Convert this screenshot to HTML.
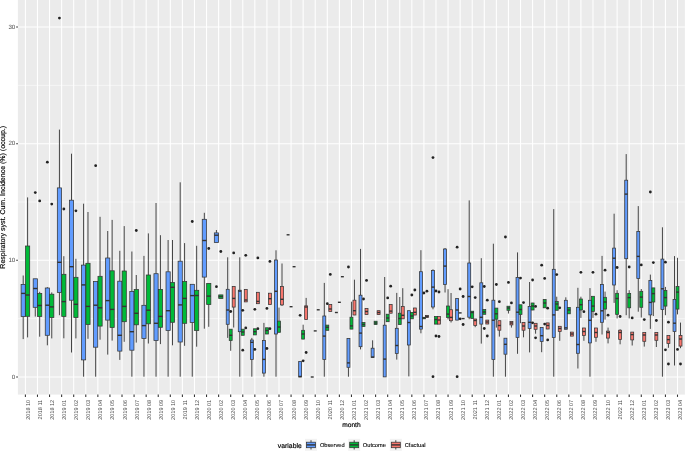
<!DOCTYPE html><html><head><meta charset="utf-8"><style>html,body{margin:0;padding:0;background:#fff;}body{width:685px;height:454px;overflow:hidden;}svg{display:block;text-rendering:geometricPrecision;font-family:"Liberation Sans",sans-serif;}</style></head><body>
<svg width="685" height="454" viewBox="0 0 685 454">
<rect x="0" y="0" width="685" height="454" fill="#fff"/>
<rect x="17.9" y="0.0" width="667.00" height="394.60" fill="#EBEBEB"/>
<line x1="17.9" x2="684.9" y1="318.67" y2="318.67" stroke="#fff" stroke-width="0.55"/>
<line x1="17.9" x2="684.9" y1="202.00" y2="202.00" stroke="#fff" stroke-width="0.55"/>
<line x1="17.9" x2="684.9" y1="85.33" y2="85.33" stroke="#fff" stroke-width="0.55"/>
<line x1="17.9" x2="684.9" y1="377.00" y2="377.00" stroke="#fff" stroke-width="1.07"/>
<line x1="17.9" x2="684.9" y1="260.33" y2="260.33" stroke="#fff" stroke-width="1.07"/>
<line x1="17.9" x2="684.9" y1="143.67" y2="143.67" stroke="#fff" stroke-width="1.07"/>
<line x1="17.9" x2="684.9" y1="27.00" y2="27.00" stroke="#fff" stroke-width="1.07"/>
<line x1="25.40" x2="25.40" y1="0.0" y2="394.6" stroke="#fff" stroke-width="1.07"/>
<line x1="37.48" x2="37.48" y1="0.0" y2="394.6" stroke="#fff" stroke-width="1.07"/>
<line x1="49.55" x2="49.55" y1="0.0" y2="394.6" stroke="#fff" stroke-width="1.07"/>
<line x1="61.63" x2="61.63" y1="0.0" y2="394.6" stroke="#fff" stroke-width="1.07"/>
<line x1="73.70" x2="73.70" y1="0.0" y2="394.6" stroke="#fff" stroke-width="1.07"/>
<line x1="85.78" x2="85.78" y1="0.0" y2="394.6" stroke="#fff" stroke-width="1.07"/>
<line x1="97.86" x2="97.86" y1="0.0" y2="394.6" stroke="#fff" stroke-width="1.07"/>
<line x1="109.93" x2="109.93" y1="0.0" y2="394.6" stroke="#fff" stroke-width="1.07"/>
<line x1="122.01" x2="122.01" y1="0.0" y2="394.6" stroke="#fff" stroke-width="1.07"/>
<line x1="134.08" x2="134.08" y1="0.0" y2="394.6" stroke="#fff" stroke-width="1.07"/>
<line x1="146.16" x2="146.16" y1="0.0" y2="394.6" stroke="#fff" stroke-width="1.07"/>
<line x1="158.24" x2="158.24" y1="0.0" y2="394.6" stroke="#fff" stroke-width="1.07"/>
<line x1="170.31" x2="170.31" y1="0.0" y2="394.6" stroke="#fff" stroke-width="1.07"/>
<line x1="182.39" x2="182.39" y1="0.0" y2="394.6" stroke="#fff" stroke-width="1.07"/>
<line x1="194.46" x2="194.46" y1="0.0" y2="394.6" stroke="#fff" stroke-width="1.07"/>
<line x1="206.54" x2="206.54" y1="0.0" y2="394.6" stroke="#fff" stroke-width="1.07"/>
<line x1="218.62" x2="218.62" y1="0.0" y2="394.6" stroke="#fff" stroke-width="1.07"/>
<line x1="230.69" x2="230.69" y1="0.0" y2="394.6" stroke="#fff" stroke-width="1.07"/>
<line x1="242.77" x2="242.77" y1="0.0" y2="394.6" stroke="#fff" stroke-width="1.07"/>
<line x1="254.84" x2="254.84" y1="0.0" y2="394.6" stroke="#fff" stroke-width="1.07"/>
<line x1="266.92" x2="266.92" y1="0.0" y2="394.6" stroke="#fff" stroke-width="1.07"/>
<line x1="279.00" x2="279.00" y1="0.0" y2="394.6" stroke="#fff" stroke-width="1.07"/>
<line x1="291.07" x2="291.07" y1="0.0" y2="394.6" stroke="#fff" stroke-width="1.07"/>
<line x1="303.15" x2="303.15" y1="0.0" y2="394.6" stroke="#fff" stroke-width="1.07"/>
<line x1="315.22" x2="315.22" y1="0.0" y2="394.6" stroke="#fff" stroke-width="1.07"/>
<line x1="327.30" x2="327.30" y1="0.0" y2="394.6" stroke="#fff" stroke-width="1.07"/>
<line x1="339.38" x2="339.38" y1="0.0" y2="394.6" stroke="#fff" stroke-width="1.07"/>
<line x1="351.45" x2="351.45" y1="0.0" y2="394.6" stroke="#fff" stroke-width="1.07"/>
<line x1="363.53" x2="363.53" y1="0.0" y2="394.6" stroke="#fff" stroke-width="1.07"/>
<line x1="375.60" x2="375.60" y1="0.0" y2="394.6" stroke="#fff" stroke-width="1.07"/>
<line x1="387.68" x2="387.68" y1="0.0" y2="394.6" stroke="#fff" stroke-width="1.07"/>
<line x1="399.76" x2="399.76" y1="0.0" y2="394.6" stroke="#fff" stroke-width="1.07"/>
<line x1="411.83" x2="411.83" y1="0.0" y2="394.6" stroke="#fff" stroke-width="1.07"/>
<line x1="423.91" x2="423.91" y1="0.0" y2="394.6" stroke="#fff" stroke-width="1.07"/>
<line x1="435.98" x2="435.98" y1="0.0" y2="394.6" stroke="#fff" stroke-width="1.07"/>
<line x1="448.06" x2="448.06" y1="0.0" y2="394.6" stroke="#fff" stroke-width="1.07"/>
<line x1="460.14" x2="460.14" y1="0.0" y2="394.6" stroke="#fff" stroke-width="1.07"/>
<line x1="472.21" x2="472.21" y1="0.0" y2="394.6" stroke="#fff" stroke-width="1.07"/>
<line x1="484.29" x2="484.29" y1="0.0" y2="394.6" stroke="#fff" stroke-width="1.07"/>
<line x1="496.36" x2="496.36" y1="0.0" y2="394.6" stroke="#fff" stroke-width="1.07"/>
<line x1="508.44" x2="508.44" y1="0.0" y2="394.6" stroke="#fff" stroke-width="1.07"/>
<line x1="520.52" x2="520.52" y1="0.0" y2="394.6" stroke="#fff" stroke-width="1.07"/>
<line x1="532.59" x2="532.59" y1="0.0" y2="394.6" stroke="#fff" stroke-width="1.07"/>
<line x1="544.67" x2="544.67" y1="0.0" y2="394.6" stroke="#fff" stroke-width="1.07"/>
<line x1="556.74" x2="556.74" y1="0.0" y2="394.6" stroke="#fff" stroke-width="1.07"/>
<line x1="568.82" x2="568.82" y1="0.0" y2="394.6" stroke="#fff" stroke-width="1.07"/>
<line x1="580.90" x2="580.90" y1="0.0" y2="394.6" stroke="#fff" stroke-width="1.07"/>
<line x1="592.97" x2="592.97" y1="0.0" y2="394.6" stroke="#fff" stroke-width="1.07"/>
<line x1="605.05" x2="605.05" y1="0.0" y2="394.6" stroke="#fff" stroke-width="1.07"/>
<line x1="617.12" x2="617.12" y1="0.0" y2="394.6" stroke="#fff" stroke-width="1.07"/>
<line x1="629.20" x2="629.20" y1="0.0" y2="394.6" stroke="#fff" stroke-width="1.07"/>
<line x1="641.28" x2="641.28" y1="0.0" y2="394.6" stroke="#fff" stroke-width="1.07"/>
<line x1="653.35" x2="653.35" y1="0.0" y2="394.6" stroke="#fff" stroke-width="1.07"/>
<line x1="665.43" x2="665.43" y1="0.0" y2="394.6" stroke="#fff" stroke-width="1.07"/>
<line x1="677.50" x2="677.50" y1="0.0" y2="394.6" stroke="#fff" stroke-width="1.07"/>
<line x1="23.20" x2="23.20" y1="275.50" y2="284.40" stroke="#333333" stroke-width="0.9"/>
<line x1="23.20" x2="23.20" y1="316.60" y2="339.10" stroke="#333333" stroke-width="0.9"/>
<rect x="21.10" y="284.40" width="4.20" height="32.20" fill="#619CFF" stroke="#333333" stroke-width="0.75"/>
<line x1="21.10" x2="25.30" y1="293.40" y2="293.40" stroke="#333333" stroke-width="1.4"/>
<line x1="27.60" x2="27.60" y1="197.40" y2="246.00" stroke="#333333" stroke-width="0.9"/>
<line x1="27.60" x2="27.60" y1="316.30" y2="337.40" stroke="#333333" stroke-width="0.9"/>
<rect x="25.50" y="246.00" width="4.20" height="70.30" fill="#00BA38" stroke="#333333" stroke-width="0.75"/>
<line x1="25.50" x2="29.70" y1="295.00" y2="295.00" stroke="#333333" stroke-width="1.4"/>
<line x1="35.28" x2="35.28" y1="278.70" y2="278.80" stroke="#333333" stroke-width="0.9"/>
<line x1="35.28" x2="35.28" y1="307.30" y2="316.60" stroke="#333333" stroke-width="0.9"/>
<rect x="33.18" y="278.80" width="4.20" height="28.50" fill="#619CFF" stroke="#333333" stroke-width="0.75"/>
<line x1="33.18" x2="37.38" y1="288.50" y2="288.50" stroke="#333333" stroke-width="1.4"/>
<circle cx="35.28" cy="192.60" r="1.4" fill="#222"/>
<line x1="39.68" x2="39.68" y1="291.80" y2="293.50" stroke="#333333" stroke-width="0.9"/>
<line x1="39.68" x2="39.68" y1="316.40" y2="336.70" stroke="#333333" stroke-width="0.9"/>
<rect x="37.58" y="293.50" width="4.20" height="22.90" fill="#00BA38" stroke="#333333" stroke-width="0.75"/>
<line x1="37.58" x2="41.78" y1="305.50" y2="305.50" stroke="#333333" stroke-width="1.4"/>
<circle cx="39.68" cy="200.90" r="1.4" fill="#222"/>
<line x1="47.35" x2="47.35" y1="287.20" y2="288.00" stroke="#333333" stroke-width="0.9"/>
<line x1="47.35" x2="47.35" y1="335.30" y2="345.30" stroke="#333333" stroke-width="0.9"/>
<rect x="45.25" y="288.00" width="4.20" height="47.30" fill="#619CFF" stroke="#333333" stroke-width="0.75"/>
<line x1="45.25" x2="49.45" y1="305.20" y2="305.20" stroke="#333333" stroke-width="1.4"/>
<circle cx="47.35" cy="162.20" r="1.4" fill="#222"/>
<line x1="51.75" x2="51.75" y1="292.40" y2="294.20" stroke="#333333" stroke-width="0.9"/>
<line x1="51.75" x2="51.75" y1="317.50" y2="338.40" stroke="#333333" stroke-width="0.9"/>
<rect x="49.65" y="294.20" width="4.20" height="23.30" fill="#00BA38" stroke="#333333" stroke-width="0.75"/>
<line x1="49.65" x2="53.85" y1="306.90" y2="306.90" stroke="#333333" stroke-width="1.4"/>
<circle cx="51.75" cy="204.10" r="1.4" fill="#222"/>
<line x1="59.43" x2="59.43" y1="129.60" y2="187.90" stroke="#333333" stroke-width="0.9"/>
<line x1="59.43" x2="59.43" y1="292.40" y2="315.20" stroke="#333333" stroke-width="0.9"/>
<rect x="57.33" y="187.90" width="4.20" height="104.50" fill="#619CFF" stroke="#333333" stroke-width="0.75"/>
<line x1="57.33" x2="61.53" y1="262.30" y2="262.30" stroke="#333333" stroke-width="1.4"/>
<circle cx="59.43" cy="18.10" r="1.4" fill="#222"/>
<line x1="63.83" x2="63.83" y1="256.20" y2="274.30" stroke="#333333" stroke-width="0.9"/>
<line x1="63.83" x2="63.83" y1="316.40" y2="338.30" stroke="#333333" stroke-width="0.9"/>
<rect x="61.73" y="274.30" width="4.20" height="42.10" fill="#00BA38" stroke="#333333" stroke-width="0.75"/>
<line x1="61.73" x2="65.93" y1="301.60" y2="301.60" stroke="#333333" stroke-width="1.4"/>
<circle cx="63.83" cy="209.00" r="1.4" fill="#222"/>
<line x1="71.50" x2="71.50" y1="153.70" y2="200.20" stroke="#333333" stroke-width="0.9"/>
<line x1="71.50" x2="71.50" y1="300.20" y2="352.50" stroke="#333333" stroke-width="0.9"/>
<rect x="69.40" y="200.20" width="4.20" height="100.00" fill="#619CFF" stroke="#333333" stroke-width="0.75"/>
<line x1="69.40" x2="73.60" y1="266.70" y2="266.70" stroke="#333333" stroke-width="1.4"/>
<line x1="75.90" x2="75.90" y1="258.80" y2="277.30" stroke="#333333" stroke-width="0.9"/>
<line x1="75.90" x2="75.90" y1="317.50" y2="338.40" stroke="#333333" stroke-width="0.9"/>
<rect x="73.80" y="277.30" width="4.20" height="40.20" fill="#00BA38" stroke="#333333" stroke-width="0.75"/>
<line x1="73.80" x2="78.00" y1="304.30" y2="304.30" stroke="#333333" stroke-width="1.4"/>
<circle cx="75.90" cy="210.80" r="1.4" fill="#222"/>
<line x1="83.58" x2="83.58" y1="203.70" y2="265.10" stroke="#333333" stroke-width="0.9"/>
<line x1="83.58" x2="83.58" y1="359.90" y2="376.70" stroke="#333333" stroke-width="0.9"/>
<rect x="81.48" y="265.10" width="4.20" height="94.80" fill="#619CFF" stroke="#333333" stroke-width="0.75"/>
<line x1="81.48" x2="85.68" y1="284.90" y2="284.90" stroke="#333333" stroke-width="1.4"/>
<line x1="87.98" x2="87.98" y1="212.00" y2="263.30" stroke="#333333" stroke-width="0.9"/>
<line x1="87.98" x2="87.98" y1="324.50" y2="338.80" stroke="#333333" stroke-width="0.9"/>
<rect x="85.88" y="263.30" width="4.20" height="61.20" fill="#00BA38" stroke="#333333" stroke-width="0.75"/>
<line x1="85.88" x2="90.08" y1="306.40" y2="306.40" stroke="#333333" stroke-width="1.4"/>
<line x1="95.66" x2="95.66" y1="281.40" y2="281.50" stroke="#333333" stroke-width="0.9"/>
<line x1="95.66" x2="95.66" y1="347.20" y2="376.70" stroke="#333333" stroke-width="0.9"/>
<rect x="93.56" y="281.50" width="4.20" height="65.70" fill="#619CFF" stroke="#333333" stroke-width="0.75"/>
<line x1="93.56" x2="97.76" y1="305.20" y2="305.20" stroke="#333333" stroke-width="1.4"/>
<circle cx="95.66" cy="165.70" r="1.4" fill="#222"/>
<line x1="100.06" x2="100.06" y1="216.80" y2="276.30" stroke="#333333" stroke-width="0.9"/>
<line x1="100.06" x2="100.06" y1="326.10" y2="339.70" stroke="#333333" stroke-width="0.9"/>
<rect x="97.96" y="276.30" width="4.20" height="49.80" fill="#00BA38" stroke="#333333" stroke-width="0.75"/>
<line x1="97.96" x2="102.16" y1="307.80" y2="307.80" stroke="#333333" stroke-width="1.4"/>
<line x1="107.73" x2="107.73" y1="231.00" y2="258.00" stroke="#333333" stroke-width="0.9"/>
<line x1="107.73" x2="107.73" y1="320.10" y2="354.60" stroke="#333333" stroke-width="0.9"/>
<rect x="105.63" y="258.00" width="4.20" height="62.10" fill="#619CFF" stroke="#333333" stroke-width="0.75"/>
<line x1="105.63" x2="109.83" y1="300.60" y2="300.60" stroke="#333333" stroke-width="1.4"/>
<line x1="112.13" x2="112.13" y1="219.90" y2="270.80" stroke="#333333" stroke-width="0.9"/>
<line x1="112.13" x2="112.13" y1="327.50" y2="340.60" stroke="#333333" stroke-width="0.9"/>
<rect x="110.03" y="270.80" width="4.20" height="56.70" fill="#00BA38" stroke="#333333" stroke-width="0.75"/>
<line x1="110.03" x2="114.23" y1="309.40" y2="309.40" stroke="#333333" stroke-width="1.4"/>
<line x1="119.81" x2="119.81" y1="250.80" y2="281.20" stroke="#333333" stroke-width="0.9"/>
<line x1="119.81" x2="119.81" y1="351.10" y2="359.90" stroke="#333333" stroke-width="0.9"/>
<rect x="117.71" y="281.20" width="4.20" height="69.90" fill="#619CFF" stroke="#333333" stroke-width="0.75"/>
<line x1="117.71" x2="121.91" y1="335.30" y2="335.30" stroke="#333333" stroke-width="1.4"/>
<line x1="124.21" x2="124.21" y1="226.10" y2="271.00" stroke="#333333" stroke-width="0.9"/>
<line x1="124.21" x2="124.21" y1="321.70" y2="341.80" stroke="#333333" stroke-width="0.9"/>
<rect x="122.11" y="271.00" width="4.20" height="50.70" fill="#00BA38" stroke="#333333" stroke-width="0.75"/>
<line x1="122.11" x2="126.31" y1="306.40" y2="306.40" stroke="#333333" stroke-width="1.4"/>
<line x1="131.88" x2="131.88" y1="251.50" y2="291.40" stroke="#333333" stroke-width="0.9"/>
<line x1="131.88" x2="131.88" y1="350.20" y2="376.70" stroke="#333333" stroke-width="0.9"/>
<rect x="129.78" y="291.40" width="4.20" height="58.80" fill="#619CFF" stroke="#333333" stroke-width="0.75"/>
<line x1="129.78" x2="133.98" y1="331.70" y2="331.70" stroke="#333333" stroke-width="1.4"/>
<line x1="136.28" x2="136.28" y1="275.00" y2="289.50" stroke="#333333" stroke-width="0.9"/>
<line x1="136.28" x2="136.28" y1="324.80" y2="342.60" stroke="#333333" stroke-width="0.9"/>
<rect x="134.18" y="289.50" width="4.20" height="35.30" fill="#00BA38" stroke="#333333" stroke-width="0.75"/>
<line x1="134.18" x2="138.38" y1="313.30" y2="313.30" stroke="#333333" stroke-width="1.4"/>
<circle cx="136.28" cy="230.50" r="1.4" fill="#222"/>
<line x1="143.96" x2="143.96" y1="255.90" y2="305.30" stroke="#333333" stroke-width="0.9"/>
<line x1="143.96" x2="143.96" y1="338.40" y2="376.70" stroke="#333333" stroke-width="0.9"/>
<rect x="141.86" y="305.30" width="4.20" height="33.10" fill="#619CFF" stroke="#333333" stroke-width="0.75"/>
<line x1="141.86" x2="146.06" y1="325.60" y2="325.60" stroke="#333333" stroke-width="1.4"/>
<line x1="148.36" x2="148.36" y1="233.40" y2="275.00" stroke="#333333" stroke-width="0.9"/>
<line x1="148.36" x2="148.36" y1="323.80" y2="343.50" stroke="#333333" stroke-width="0.9"/>
<rect x="146.26" y="275.00" width="4.20" height="48.80" fill="#00BA38" stroke="#333333" stroke-width="0.75"/>
<line x1="146.26" x2="150.46" y1="310.20" y2="310.20" stroke="#333333" stroke-width="1.4"/>
<line x1="156.04" x2="156.04" y1="203.00" y2="273.70" stroke="#333333" stroke-width="0.9"/>
<line x1="156.04" x2="156.04" y1="340.60" y2="376.70" stroke="#333333" stroke-width="0.9"/>
<rect x="153.94" y="273.70" width="4.20" height="66.90" fill="#619CFF" stroke="#333333" stroke-width="0.75"/>
<line x1="153.94" x2="158.14" y1="323.30" y2="323.30" stroke="#333333" stroke-width="1.4"/>
<line x1="160.44" x2="160.44" y1="235.20" y2="289.40" stroke="#333333" stroke-width="0.9"/>
<line x1="160.44" x2="160.44" y1="327.30" y2="344.10" stroke="#333333" stroke-width="0.9"/>
<rect x="158.34" y="289.40" width="4.20" height="37.90" fill="#00BA38" stroke="#333333" stroke-width="0.75"/>
<line x1="158.34" x2="162.54" y1="316.40" y2="316.40" stroke="#333333" stroke-width="1.4"/>
<line x1="168.11" x2="168.11" y1="240.00" y2="271.80" stroke="#333333" stroke-width="0.9"/>
<line x1="168.11" x2="168.11" y1="330.50" y2="376.70" stroke="#333333" stroke-width="0.9"/>
<rect x="166.01" y="271.80" width="4.20" height="58.70" fill="#619CFF" stroke="#333333" stroke-width="0.75"/>
<line x1="166.01" x2="170.21" y1="310.70" y2="310.70" stroke="#333333" stroke-width="1.4"/>
<line x1="172.51" x2="172.51" y1="240.00" y2="282.50" stroke="#333333" stroke-width="0.9"/>
<line x1="172.51" x2="172.51" y1="322.30" y2="345.30" stroke="#333333" stroke-width="0.9"/>
<rect x="170.41" y="282.50" width="4.20" height="39.80" fill="#00BA38" stroke="#333333" stroke-width="0.75"/>
<line x1="170.41" x2="174.61" y1="287.30" y2="287.30" stroke="#333333" stroke-width="1.4"/>
<line x1="180.19" x2="180.19" y1="182.30" y2="261.20" stroke="#333333" stroke-width="0.9"/>
<line x1="180.19" x2="180.19" y1="342.00" y2="376.70" stroke="#333333" stroke-width="0.9"/>
<rect x="178.09" y="261.20" width="4.20" height="80.80" fill="#619CFF" stroke="#333333" stroke-width="0.75"/>
<line x1="178.09" x2="182.29" y1="304.90" y2="304.90" stroke="#333333" stroke-width="1.4"/>
<line x1="184.59" x2="184.59" y1="243.10" y2="281.50" stroke="#333333" stroke-width="0.9"/>
<line x1="184.59" x2="184.59" y1="323.30" y2="345.80" stroke="#333333" stroke-width="0.9"/>
<rect x="182.49" y="281.50" width="4.20" height="41.80" fill="#00BA38" stroke="#333333" stroke-width="0.75"/>
<line x1="182.49" x2="186.69" y1="298.40" y2="298.40" stroke="#333333" stroke-width="1.4"/>
<line x1="192.26" x2="192.26" y1="284.20" y2="284.30" stroke="#333333" stroke-width="0.9"/>
<line x1="192.26" x2="192.26" y1="322.40" y2="376.70" stroke="#333333" stroke-width="0.9"/>
<rect x="190.16" y="284.30" width="4.20" height="38.10" fill="#619CFF" stroke="#333333" stroke-width="0.75"/>
<line x1="190.16" x2="194.36" y1="295.60" y2="295.60" stroke="#333333" stroke-width="1.4"/>
<circle cx="192.26" cy="221.50" r="1.4" fill="#222"/>
<line x1="196.66" x2="196.66" y1="245.80" y2="290.30" stroke="#333333" stroke-width="0.9"/>
<line x1="196.66" x2="196.66" y1="330.50" y2="346.70" stroke="#333333" stroke-width="0.9"/>
<rect x="194.56" y="290.30" width="4.20" height="40.20" fill="#00BA38" stroke="#333333" stroke-width="0.75"/>
<line x1="194.56" x2="198.76" y1="295.50" y2="295.50" stroke="#333333" stroke-width="1.4"/>
<line x1="204.34" x2="204.34" y1="212.80" y2="219.30" stroke="#333333" stroke-width="0.9"/>
<line x1="204.34" x2="204.34" y1="277.10" y2="328.70" stroke="#333333" stroke-width="0.9"/>
<rect x="202.24" y="219.30" width="4.20" height="57.80" fill="#619CFF" stroke="#333333" stroke-width="0.75"/>
<line x1="202.24" x2="206.44" y1="240.50" y2="240.50" stroke="#333333" stroke-width="1.4"/>
<line x1="208.74" x2="208.74" y1="283.30" y2="283.40" stroke="#333333" stroke-width="0.9"/>
<line x1="208.74" x2="208.74" y1="304.60" y2="326.80" stroke="#333333" stroke-width="0.9"/>
<rect x="206.64" y="283.40" width="4.20" height="21.20" fill="#00BA38" stroke="#333333" stroke-width="0.75"/>
<line x1="206.64" x2="210.84" y1="296.10" y2="296.10" stroke="#333333" stroke-width="1.4"/>
<circle cx="208.74" cy="248.50" r="1.4" fill="#222"/>
<line x1="216.42" x2="216.42" y1="230.00" y2="232.90" stroke="#333333" stroke-width="0.9"/>
<line x1="216.42" x2="216.42" y1="242.60" y2="242.70" stroke="#333333" stroke-width="0.9"/>
<rect x="214.32" y="232.90" width="4.20" height="9.70" fill="#619CFF" stroke="#333333" stroke-width="0.75"/>
<line x1="214.32" x2="218.52" y1="235.20" y2="235.20" stroke="#333333" stroke-width="1.4"/>
<circle cx="216.42" cy="286.70" r="1.4" fill="#222"/>
<line x1="220.82" x2="220.82" y1="294.80" y2="294.90" stroke="#333333" stroke-width="0.9"/>
<line x1="220.82" x2="220.82" y1="298.50" y2="298.60" stroke="#333333" stroke-width="0.9"/>
<rect x="218.72" y="294.90" width="4.20" height="3.60" fill="#00BA38" stroke="#333333" stroke-width="0.75"/>
<line x1="218.72" x2="222.92" y1="296.50" y2="296.50" stroke="#333333" stroke-width="1.4"/>
<circle cx="220.82" cy="251.50" r="1.4" fill="#222"/>
<line x1="227.69" x2="227.69" y1="257.30" y2="289.30" stroke="#333333" stroke-width="0.9"/>
<line x1="227.69" x2="227.69" y1="324.30" y2="337.90" stroke="#333333" stroke-width="0.9"/>
<rect x="226.22" y="289.30" width="2.95" height="35.00" fill="#619CFF" stroke="#333333" stroke-width="0.75"/>
<line x1="226.22" x2="229.17" y1="310.00" y2="310.00" stroke="#333333" stroke-width="1.4"/>
<line x1="230.69" x2="230.69" y1="329.10" y2="329.20" stroke="#333333" stroke-width="0.9"/>
<line x1="230.69" x2="230.69" y1="340.60" y2="350.80" stroke="#333333" stroke-width="0.9"/>
<rect x="229.22" y="329.20" width="2.95" height="11.40" fill="#00BA38" stroke="#333333" stroke-width="0.75"/>
<line x1="229.22" x2="232.17" y1="335.30" y2="335.30" stroke="#333333" stroke-width="1.4"/>
<circle cx="230.69" cy="311.50" r="1.4" fill="#222"/>
<line x1="233.69" x2="233.69" y1="286.30" y2="286.40" stroke="#333333" stroke-width="0.9"/>
<line x1="233.69" x2="233.69" y1="307.10" y2="327.50" stroke="#333333" stroke-width="0.9"/>
<rect x="232.22" y="286.40" width="2.95" height="20.70" fill="#F8766D" stroke="#333333" stroke-width="0.75"/>
<line x1="232.22" x2="235.17" y1="298.40" y2="298.40" stroke="#333333" stroke-width="1.4"/>
<circle cx="233.69" cy="252.90" r="1.4" fill="#222"/>
<line x1="239.77" x2="239.77" y1="257.30" y2="290.20" stroke="#333333" stroke-width="0.9"/>
<line x1="239.77" x2="239.77" y1="331.70" y2="376.70" stroke="#333333" stroke-width="0.9"/>
<rect x="238.29" y="290.20" width="2.95" height="41.50" fill="#619CFF" stroke="#333333" stroke-width="0.75"/>
<line x1="238.29" x2="241.24" y1="291.10" y2="291.10" stroke="#333333" stroke-width="1.4"/>
<line x1="242.77" x2="242.77" y1="329.10" y2="329.20" stroke="#333333" stroke-width="0.9"/>
<line x1="242.77" x2="242.77" y1="335.30" y2="335.40" stroke="#333333" stroke-width="0.9"/>
<rect x="241.29" y="329.20" width="2.95" height="6.10" fill="#00BA38" stroke="#333333" stroke-width="0.75"/>
<line x1="241.29" x2="244.24" y1="332.00" y2="332.00" stroke="#333333" stroke-width="1.4"/>
<circle cx="242.77" cy="310.30" r="1.4" fill="#222"/>
<circle cx="242.77" cy="350.20" r="1.4" fill="#222"/>
<line x1="245.77" x2="245.77" y1="289.40" y2="289.50" stroke="#333333" stroke-width="0.9"/>
<line x1="245.77" x2="245.77" y1="301.90" y2="302.00" stroke="#333333" stroke-width="0.9"/>
<rect x="244.29" y="289.50" width="2.95" height="12.40" fill="#F8766D" stroke="#333333" stroke-width="0.75"/>
<line x1="244.29" x2="247.24" y1="300.00" y2="300.00" stroke="#333333" stroke-width="1.4"/>
<circle cx="245.77" cy="255.30" r="1.4" fill="#222"/>
<circle cx="245.77" cy="327.90" r="1.4" fill="#222"/>
<line x1="251.84" x2="251.84" y1="337.90" y2="340.00" stroke="#333333" stroke-width="0.9"/>
<line x1="251.84" x2="251.84" y1="359.40" y2="376.70" stroke="#333333" stroke-width="0.9"/>
<rect x="250.37" y="340.00" width="2.95" height="19.40" fill="#619CFF" stroke="#333333" stroke-width="0.75"/>
<line x1="250.37" x2="253.32" y1="342.30" y2="342.30" stroke="#333333" stroke-width="1.4"/>
<line x1="254.84" x2="254.84" y1="328.70" y2="328.80" stroke="#333333" stroke-width="0.9"/>
<line x1="254.84" x2="254.84" y1="334.90" y2="335.00" stroke="#333333" stroke-width="0.9"/>
<rect x="253.37" y="328.80" width="2.95" height="6.10" fill="#00BA38" stroke="#333333" stroke-width="0.75"/>
<line x1="253.37" x2="256.32" y1="331.70" y2="331.70" stroke="#333333" stroke-width="1.4"/>
<circle cx="254.84" cy="309.30" r="1.4" fill="#222"/>
<circle cx="254.84" cy="349.40" r="1.4" fill="#222"/>
<line x1="257.84" x2="257.84" y1="292.20" y2="292.30" stroke="#333333" stroke-width="0.9"/>
<line x1="257.84" x2="257.84" y1="303.70" y2="303.80" stroke="#333333" stroke-width="0.9"/>
<rect x="256.37" y="292.30" width="2.95" height="11.40" fill="#F8766D" stroke="#333333" stroke-width="0.75"/>
<line x1="256.37" x2="259.32" y1="301.40" y2="301.40" stroke="#333333" stroke-width="1.4"/>
<circle cx="257.84" cy="257.90" r="1.4" fill="#222"/>
<circle cx="257.84" cy="328.70" r="1.4" fill="#222"/>
<line x1="263.92" x2="263.92" y1="322.90" y2="340.60" stroke="#333333" stroke-width="0.9"/>
<line x1="263.92" x2="263.92" y1="373.10" y2="376.70" stroke="#333333" stroke-width="0.9"/>
<rect x="262.44" y="340.60" width="2.95" height="32.50" fill="#619CFF" stroke="#333333" stroke-width="0.75"/>
<line x1="262.44" x2="265.40" y1="359.40" y2="359.40" stroke="#333333" stroke-width="1.4"/>
<line x1="266.92" x2="266.92" y1="327.70" y2="327.80" stroke="#333333" stroke-width="0.9"/>
<line x1="266.92" x2="266.92" y1="334.00" y2="334.10" stroke="#333333" stroke-width="0.9"/>
<rect x="265.44" y="327.80" width="2.95" height="6.20" fill="#00BA38" stroke="#333333" stroke-width="0.75"/>
<line x1="265.44" x2="268.40" y1="330.50" y2="330.50" stroke="#333333" stroke-width="1.4"/>
<circle cx="266.92" cy="308.40" r="1.4" fill="#222"/>
<circle cx="266.92" cy="348.50" r="1.4" fill="#222"/>
<line x1="269.92" x2="269.92" y1="293.10" y2="293.20" stroke="#333333" stroke-width="0.9"/>
<line x1="269.92" x2="269.92" y1="304.60" y2="304.70" stroke="#333333" stroke-width="0.9"/>
<rect x="268.44" y="293.20" width="2.95" height="11.40" fill="#F8766D" stroke="#333333" stroke-width="0.75"/>
<line x1="268.44" x2="271.40" y1="298.70" y2="298.70" stroke="#333333" stroke-width="1.4"/>
<circle cx="269.92" cy="261.40" r="1.4" fill="#222"/>
<circle cx="269.92" cy="328.70" r="1.4" fill="#222"/>
<line x1="276.00" x2="276.00" y1="250.30" y2="260.00" stroke="#333333" stroke-width="0.9"/>
<line x1="276.00" x2="276.00" y1="334.00" y2="376.70" stroke="#333333" stroke-width="0.9"/>
<rect x="274.52" y="260.00" width="2.95" height="74.00" fill="#619CFF" stroke="#333333" stroke-width="0.75"/>
<line x1="274.52" x2="277.47" y1="291.30" y2="291.30" stroke="#333333" stroke-width="1.4"/>
<line x1="279.00" x2="279.00" y1="307.60" y2="321.10" stroke="#333333" stroke-width="0.9"/>
<line x1="279.00" x2="279.00" y1="332.30" y2="332.40" stroke="#333333" stroke-width="0.9"/>
<rect x="277.52" y="321.10" width="2.95" height="11.20" fill="#00BA38" stroke="#333333" stroke-width="0.75"/>
<line x1="277.52" x2="280.47" y1="327.00" y2="327.00" stroke="#333333" stroke-width="1.4"/>
<line x1="282.00" x2="282.00" y1="263.50" y2="286.40" stroke="#333333" stroke-width="0.9"/>
<line x1="282.00" x2="282.00" y1="304.90" y2="306.00" stroke="#333333" stroke-width="0.9"/>
<rect x="280.52" y="286.40" width="2.95" height="18.50" fill="#F8766D" stroke="#333333" stroke-width="0.75"/>
<line x1="280.52" x2="283.47" y1="299.30" y2="299.30" stroke="#333333" stroke-width="1.4"/>
<rect x="286.60" y="234.80" width="2.95" height="0.00" fill="#619CFF" stroke="#333333" stroke-width="0.75"/>
<line x1="286.60" x2="289.55" y1="234.80" y2="234.80" stroke="#333333" stroke-width="1.4"/>
<rect x="289.60" y="306.70" width="2.95" height="0.00" fill="#00BA38" stroke="#333333" stroke-width="0.75"/>
<line x1="289.60" x2="292.55" y1="306.70" y2="306.70" stroke="#333333" stroke-width="1.4"/>
<rect x="292.60" y="266.70" width="2.95" height="0.00" fill="#F8766D" stroke="#333333" stroke-width="0.75"/>
<line x1="292.60" x2="295.55" y1="266.70" y2="266.70" stroke="#333333" stroke-width="1.4"/>
<line x1="300.15" x2="300.15" y1="361.30" y2="361.40" stroke="#333333" stroke-width="0.9"/>
<rect x="298.67" y="361.40" width="2.95" height="15.60" fill="#619CFF" stroke="#333333" stroke-width="0.75"/>
<line x1="298.67" x2="301.62" y1="376.50" y2="376.50" stroke="#333333" stroke-width="1.4"/>
<circle cx="300.15" cy="315.30" r="1.4" fill="#222"/>
<line x1="303.15" x2="303.15" y1="324.70" y2="330.30" stroke="#333333" stroke-width="0.9"/>
<line x1="303.15" x2="303.15" y1="339.10" y2="339.20" stroke="#333333" stroke-width="0.9"/>
<rect x="301.67" y="330.30" width="2.95" height="8.80" fill="#00BA38" stroke="#333333" stroke-width="0.75"/>
<line x1="301.67" x2="304.62" y1="334.00" y2="334.00" stroke="#333333" stroke-width="1.4"/>
<circle cx="303.15" cy="360.80" r="1.4" fill="#222"/>
<line x1="306.15" x2="306.15" y1="297.90" y2="305.80" stroke="#333333" stroke-width="0.9"/>
<line x1="306.15" x2="306.15" y1="319.60" y2="319.70" stroke="#333333" stroke-width="0.9"/>
<rect x="304.67" y="305.80" width="2.95" height="13.80" fill="#F8766D" stroke="#333333" stroke-width="0.75"/>
<line x1="304.67" x2="307.62" y1="307.00" y2="307.00" stroke="#333333" stroke-width="1.4"/>
<circle cx="306.15" cy="352.50" r="1.4" fill="#222"/>
<rect x="310.75" y="377.00" width="2.95" height="0.00" fill="#619CFF" stroke="#333333" stroke-width="0.75"/>
<line x1="310.75" x2="313.70" y1="377.00" y2="377.00" stroke="#333333" stroke-width="1.4"/>
<rect x="313.75" y="330.90" width="2.95" height="0.00" fill="#00BA38" stroke="#333333" stroke-width="0.75"/>
<line x1="313.75" x2="316.70" y1="330.90" y2="330.90" stroke="#333333" stroke-width="1.4"/>
<rect x="316.75" y="309.80" width="2.95" height="0.00" fill="#F8766D" stroke="#333333" stroke-width="0.75"/>
<line x1="316.75" x2="319.70" y1="309.80" y2="309.80" stroke="#333333" stroke-width="1.4"/>
<line x1="324.30" x2="324.30" y1="282.90" y2="316.00" stroke="#333333" stroke-width="0.9"/>
<line x1="324.30" x2="324.30" y1="359.40" y2="376.70" stroke="#333333" stroke-width="0.9"/>
<rect x="322.82" y="316.00" width="2.95" height="43.40" fill="#619CFF" stroke="#333333" stroke-width="0.75"/>
<line x1="322.82" x2="325.78" y1="336.10" y2="336.10" stroke="#333333" stroke-width="1.4"/>
<line x1="327.30" x2="327.30" y1="325.00" y2="325.10" stroke="#333333" stroke-width="0.9"/>
<line x1="327.30" x2="327.30" y1="330.30" y2="330.40" stroke="#333333" stroke-width="0.9"/>
<rect x="325.82" y="325.10" width="2.95" height="5.20" fill="#00BA38" stroke="#333333" stroke-width="0.75"/>
<line x1="325.82" x2="328.78" y1="327.30" y2="327.30" stroke="#333333" stroke-width="1.4"/>
<circle cx="327.30" cy="303.70" r="1.4" fill="#222"/>
<line x1="330.30" x2="330.30" y1="304.40" y2="304.50" stroke="#333333" stroke-width="0.9"/>
<line x1="330.30" x2="330.30" y1="311.60" y2="311.70" stroke="#333333" stroke-width="0.9"/>
<rect x="328.82" y="304.50" width="2.95" height="7.10" fill="#F8766D" stroke="#333333" stroke-width="0.75"/>
<line x1="328.82" x2="331.78" y1="309.00" y2="309.00" stroke="#333333" stroke-width="1.4"/>
<circle cx="330.30" cy="274.40" r="1.4" fill="#222"/>
<rect x="334.90" y="312.50" width="2.95" height="0.00" fill="#619CFF" stroke="#333333" stroke-width="0.75"/>
<line x1="334.90" x2="337.85" y1="312.50" y2="312.50" stroke="#333333" stroke-width="1.4"/>
<rect x="337.90" y="302.30" width="2.95" height="0.00" fill="#00BA38" stroke="#333333" stroke-width="0.75"/>
<line x1="337.90" x2="340.85" y1="302.30" y2="302.30" stroke="#333333" stroke-width="1.4"/>
<rect x="340.90" y="276.70" width="2.95" height="0.00" fill="#F8766D" stroke="#333333" stroke-width="0.75"/>
<line x1="340.90" x2="343.85" y1="276.70" y2="276.70" stroke="#333333" stroke-width="1.4"/>
<line x1="348.45" x2="348.45" y1="338.30" y2="338.40" stroke="#333333" stroke-width="0.9"/>
<line x1="348.45" x2="348.45" y1="367.30" y2="376.70" stroke="#333333" stroke-width="0.9"/>
<rect x="346.98" y="338.40" width="2.95" height="28.90" fill="#619CFF" stroke="#333333" stroke-width="0.75"/>
<line x1="346.98" x2="349.93" y1="362.90" y2="362.90" stroke="#333333" stroke-width="1.4"/>
<circle cx="348.45" cy="267.00" r="1.4" fill="#222"/>
<line x1="351.45" x2="351.45" y1="301.70" y2="317.20" stroke="#333333" stroke-width="0.9"/>
<line x1="351.45" x2="351.45" y1="329.10" y2="329.20" stroke="#333333" stroke-width="0.9"/>
<rect x="349.98" y="317.20" width="2.95" height="11.90" fill="#00BA38" stroke="#333333" stroke-width="0.75"/>
<line x1="349.98" x2="352.93" y1="325.90" y2="325.90" stroke="#333333" stroke-width="1.4"/>
<line x1="354.45" x2="354.45" y1="279.70" y2="300.20" stroke="#333333" stroke-width="0.9"/>
<line x1="354.45" x2="354.45" y1="315.00" y2="315.10" stroke="#333333" stroke-width="0.9"/>
<rect x="352.98" y="300.20" width="2.95" height="14.80" fill="#F8766D" stroke="#333333" stroke-width="0.75"/>
<line x1="352.98" x2="355.93" y1="310.70" y2="310.70" stroke="#333333" stroke-width="1.4"/>
<line x1="360.53" x2="360.53" y1="248.90" y2="295.20" stroke="#333333" stroke-width="0.9"/>
<line x1="360.53" x2="360.53" y1="346.70" y2="349.40" stroke="#333333" stroke-width="0.9"/>
<rect x="359.05" y="295.20" width="2.95" height="51.50" fill="#619CFF" stroke="#333333" stroke-width="0.75"/>
<line x1="359.05" x2="362.00" y1="333.10" y2="333.10" stroke="#333333" stroke-width="1.4"/>
<line x1="363.53" x2="363.53" y1="322.40" y2="322.50" stroke="#333333" stroke-width="0.9"/>
<line x1="363.53" x2="363.53" y1="326.50" y2="326.60" stroke="#333333" stroke-width="0.9"/>
<rect x="362.05" y="322.50" width="2.95" height="4.00" fill="#00BA38" stroke="#333333" stroke-width="0.75"/>
<line x1="362.05" x2="365.00" y1="324.50" y2="324.50" stroke="#333333" stroke-width="1.4"/>
<circle cx="363.53" cy="299.00" r="1.4" fill="#222"/>
<line x1="366.53" x2="366.53" y1="308.40" y2="308.50" stroke="#333333" stroke-width="0.9"/>
<line x1="366.53" x2="366.53" y1="314.60" y2="314.70" stroke="#333333" stroke-width="0.9"/>
<rect x="365.05" y="308.50" width="2.95" height="6.10" fill="#F8766D" stroke="#333333" stroke-width="0.75"/>
<line x1="365.05" x2="368.00" y1="311.50" y2="311.50" stroke="#333333" stroke-width="1.4"/>
<circle cx="366.53" cy="280.40" r="1.4" fill="#222"/>
<line x1="372.60" x2="372.60" y1="340.30" y2="348.20" stroke="#333333" stroke-width="0.9"/>
<line x1="372.60" x2="372.60" y1="357.50" y2="357.60" stroke="#333333" stroke-width="0.9"/>
<rect x="371.13" y="348.20" width="2.95" height="9.30" fill="#619CFF" stroke="#333333" stroke-width="0.75"/>
<line x1="371.13" x2="374.08" y1="357.00" y2="357.00" stroke="#333333" stroke-width="1.4"/>
<line x1="375.60" x2="375.60" y1="321.10" y2="321.20" stroke="#333333" stroke-width="0.9"/>
<line x1="375.60" x2="375.60" y1="324.60" y2="324.70" stroke="#333333" stroke-width="0.9"/>
<rect x="374.13" y="321.20" width="2.95" height="3.40" fill="#00BA38" stroke="#333333" stroke-width="0.75"/>
<line x1="374.13" x2="377.08" y1="323.00" y2="323.00" stroke="#333333" stroke-width="1.4"/>
<line x1="378.60" x2="378.60" y1="310.60" y2="310.70" stroke="#333333" stroke-width="0.9"/>
<line x1="378.60" x2="378.60" y1="314.60" y2="314.70" stroke="#333333" stroke-width="0.9"/>
<rect x="377.13" y="310.70" width="2.95" height="3.90" fill="#F8766D" stroke="#333333" stroke-width="0.75"/>
<line x1="377.13" x2="380.08" y1="312.50" y2="312.50" stroke="#333333" stroke-width="1.4"/>
<line x1="384.68" x2="384.68" y1="277.00" y2="325.20" stroke="#333333" stroke-width="0.9"/>
<line x1="384.68" x2="384.68" y1="376.90" y2="377.00" stroke="#333333" stroke-width="0.9"/>
<rect x="383.20" y="325.20" width="2.95" height="51.70" fill="#619CFF" stroke="#333333" stroke-width="0.75"/>
<line x1="383.20" x2="386.16" y1="359.10" y2="359.10" stroke="#333333" stroke-width="1.4"/>
<line x1="387.68" x2="387.68" y1="314.10" y2="314.20" stroke="#333333" stroke-width="0.9"/>
<line x1="387.68" x2="387.68" y1="321.70" y2="321.80" stroke="#333333" stroke-width="0.9"/>
<rect x="386.20" y="314.20" width="2.95" height="7.50" fill="#00BA38" stroke="#333333" stroke-width="0.75"/>
<line x1="386.20" x2="389.16" y1="318.00" y2="318.00" stroke="#333333" stroke-width="1.4"/>
<circle cx="387.68" cy="297.90" r="1.4" fill="#222"/>
<line x1="390.68" x2="390.68" y1="304.40" y2="304.50" stroke="#333333" stroke-width="0.9"/>
<line x1="390.68" x2="390.68" y1="313.20" y2="313.30" stroke="#333333" stroke-width="0.9"/>
<rect x="389.20" y="304.50" width="2.95" height="8.70" fill="#F8766D" stroke="#333333" stroke-width="0.75"/>
<line x1="389.20" x2="392.16" y1="311.10" y2="311.10" stroke="#333333" stroke-width="1.4"/>
<circle cx="390.68" cy="286.20" r="1.4" fill="#222"/>
<line x1="396.76" x2="396.76" y1="292.90" y2="328.30" stroke="#333333" stroke-width="0.9"/>
<line x1="396.76" x2="396.76" y1="353.50" y2="359.60" stroke="#333333" stroke-width="0.9"/>
<rect x="395.28" y="328.30" width="2.95" height="25.20" fill="#619CFF" stroke="#333333" stroke-width="0.75"/>
<line x1="395.28" x2="398.23" y1="345.50" y2="345.50" stroke="#333333" stroke-width="1.4"/>
<line x1="399.76" x2="399.76" y1="297.00" y2="313.20" stroke="#333333" stroke-width="0.9"/>
<line x1="399.76" x2="399.76" y1="324.60" y2="324.70" stroke="#333333" stroke-width="0.9"/>
<rect x="398.28" y="313.20" width="2.95" height="11.40" fill="#00BA38" stroke="#333333" stroke-width="0.75"/>
<line x1="398.28" x2="401.23" y1="318.50" y2="318.50" stroke="#333333" stroke-width="1.4"/>
<line x1="402.76" x2="402.76" y1="288.20" y2="306.50" stroke="#333333" stroke-width="0.9"/>
<line x1="402.76" x2="402.76" y1="318.80" y2="318.90" stroke="#333333" stroke-width="0.9"/>
<rect x="401.28" y="306.50" width="2.95" height="12.30" fill="#F8766D" stroke="#333333" stroke-width="0.75"/>
<line x1="401.28" x2="404.23" y1="315.30" y2="315.30" stroke="#333333" stroke-width="1.4"/>
<line x1="408.83" x2="408.83" y1="310.60" y2="310.70" stroke="#333333" stroke-width="0.9"/>
<line x1="408.83" x2="408.83" y1="345.00" y2="376.40" stroke="#333333" stroke-width="0.9"/>
<rect x="407.36" y="310.70" width="2.95" height="34.30" fill="#619CFF" stroke="#333333" stroke-width="0.75"/>
<line x1="407.36" x2="410.31" y1="322.50" y2="322.50" stroke="#333333" stroke-width="1.4"/>
<line x1="411.83" x2="411.83" y1="312.30" y2="312.40" stroke="#333333" stroke-width="0.9"/>
<line x1="411.83" x2="411.83" y1="318.80" y2="318.90" stroke="#333333" stroke-width="0.9"/>
<rect x="410.36" y="312.40" width="2.95" height="6.40" fill="#00BA38" stroke="#333333" stroke-width="0.75"/>
<line x1="410.36" x2="413.31" y1="316.00" y2="316.00" stroke="#333333" stroke-width="1.4"/>
<circle cx="411.83" cy="295.00" r="1.4" fill="#222"/>
<line x1="414.83" x2="414.83" y1="307.90" y2="308.00" stroke="#333333" stroke-width="0.9"/>
<line x1="414.83" x2="414.83" y1="315.00" y2="315.10" stroke="#333333" stroke-width="0.9"/>
<rect x="413.36" y="308.00" width="2.95" height="7.00" fill="#F8766D" stroke="#333333" stroke-width="0.75"/>
<line x1="413.36" x2="416.31" y1="312.30" y2="312.30" stroke="#333333" stroke-width="1.4"/>
<circle cx="414.83" cy="290.00" r="1.4" fill="#222"/>
<line x1="420.91" x2="420.91" y1="250.20" y2="271.70" stroke="#333333" stroke-width="0.9"/>
<line x1="420.91" x2="420.91" y1="329.10" y2="333.30" stroke="#333333" stroke-width="0.9"/>
<rect x="419.43" y="271.70" width="2.95" height="57.40" fill="#619CFF" stroke="#333333" stroke-width="0.75"/>
<line x1="419.43" x2="422.38" y1="326.50" y2="326.50" stroke="#333333" stroke-width="1.4"/>
<line x1="423.91" x2="423.91" y1="317.20" y2="317.30" stroke="#333333" stroke-width="0.9"/>
<line x1="423.91" x2="423.91" y1="318.80" y2="318.90" stroke="#333333" stroke-width="0.9"/>
<rect x="422.43" y="317.30" width="2.95" height="1.50" fill="#00BA38" stroke="#333333" stroke-width="0.75"/>
<line x1="422.43" x2="425.38" y1="318.00" y2="318.00" stroke="#333333" stroke-width="1.4"/>
<circle cx="423.91" cy="293.00" r="1.4" fill="#222"/>
<line x1="426.91" x2="426.91" y1="315.30" y2="315.40" stroke="#333333" stroke-width="0.9"/>
<line x1="426.91" x2="426.91" y1="317.60" y2="317.70" stroke="#333333" stroke-width="0.9"/>
<rect x="425.43" y="315.40" width="2.95" height="2.20" fill="#F8766D" stroke="#333333" stroke-width="0.75"/>
<line x1="425.43" x2="428.38" y1="316.50" y2="316.50" stroke="#333333" stroke-width="1.4"/>
<circle cx="426.91" cy="291.20" r="1.4" fill="#222"/>
<line x1="432.98" x2="432.98" y1="269.30" y2="270.50" stroke="#333333" stroke-width="0.9"/>
<line x1="432.98" x2="432.98" y1="307.00" y2="309.30" stroke="#333333" stroke-width="0.9"/>
<rect x="431.51" y="270.50" width="2.95" height="36.50" fill="#619CFF" stroke="#333333" stroke-width="0.75"/>
<line x1="431.51" x2="434.46" y1="287.10" y2="287.10" stroke="#333333" stroke-width="1.4"/>
<circle cx="432.98" cy="157.60" r="1.4" fill="#222"/>
<circle cx="432.98" cy="376.70" r="1.4" fill="#222"/>
<line x1="435.98" x2="435.98" y1="316.40" y2="316.50" stroke="#333333" stroke-width="0.9"/>
<line x1="435.98" x2="435.98" y1="324.10" y2="324.20" stroke="#333333" stroke-width="0.9"/>
<rect x="434.51" y="316.50" width="2.95" height="7.60" fill="#00BA38" stroke="#333333" stroke-width="0.75"/>
<line x1="434.51" x2="437.46" y1="319.50" y2="319.50" stroke="#333333" stroke-width="1.4"/>
<circle cx="435.98" cy="291.00" r="1.4" fill="#222"/>
<circle cx="435.98" cy="336.00" r="1.4" fill="#222"/>
<line x1="438.98" x2="438.98" y1="316.40" y2="316.50" stroke="#333333" stroke-width="0.9"/>
<line x1="438.98" x2="438.98" y1="324.10" y2="324.20" stroke="#333333" stroke-width="0.9"/>
<rect x="437.51" y="316.50" width="2.95" height="7.60" fill="#F8766D" stroke="#333333" stroke-width="0.75"/>
<line x1="437.51" x2="440.46" y1="320.00" y2="320.00" stroke="#333333" stroke-width="1.4"/>
<circle cx="438.98" cy="292.00" r="1.4" fill="#222"/>
<circle cx="438.98" cy="336.50" r="1.4" fill="#222"/>
<line x1="445.06" x2="445.06" y1="248.00" y2="249.00" stroke="#333333" stroke-width="0.9"/>
<line x1="445.06" x2="445.06" y1="284.60" y2="292.50" stroke="#333333" stroke-width="0.9"/>
<rect x="443.58" y="249.00" width="2.95" height="35.60" fill="#619CFF" stroke="#333333" stroke-width="0.75"/>
<line x1="443.58" x2="446.54" y1="266.10" y2="266.10" stroke="#333333" stroke-width="1.4"/>
<line x1="448.06" x2="448.06" y1="289.20" y2="306.00" stroke="#333333" stroke-width="0.9"/>
<line x1="448.06" x2="448.06" y1="317.40" y2="319.40" stroke="#333333" stroke-width="0.9"/>
<rect x="446.58" y="306.00" width="2.95" height="11.40" fill="#00BA38" stroke="#333333" stroke-width="0.75"/>
<line x1="446.58" x2="449.54" y1="314.10" y2="314.10" stroke="#333333" stroke-width="1.4"/>
<line x1="451.06" x2="451.06" y1="293.00" y2="309.70" stroke="#333333" stroke-width="0.9"/>
<line x1="451.06" x2="451.06" y1="320.70" y2="322.50" stroke="#333333" stroke-width="0.9"/>
<rect x="449.58" y="309.70" width="2.95" height="11.00" fill="#F8766D" stroke="#333333" stroke-width="0.75"/>
<line x1="449.58" x2="452.54" y1="317.40" y2="317.40" stroke="#333333" stroke-width="1.4"/>
<line x1="457.14" x2="457.14" y1="298.40" y2="298.50" stroke="#333333" stroke-width="0.9"/>
<line x1="457.14" x2="457.14" y1="320.10" y2="320.20" stroke="#333333" stroke-width="0.9"/>
<rect x="455.66" y="298.50" width="2.95" height="21.60" fill="#619CFF" stroke="#333333" stroke-width="0.75"/>
<line x1="455.66" x2="458.61" y1="310.00" y2="310.00" stroke="#333333" stroke-width="1.4"/>
<circle cx="457.14" cy="247.20" r="1.4" fill="#222"/>
<circle cx="457.14" cy="376.70" r="1.4" fill="#222"/>
<rect x="458.66" y="312.90" width="2.95" height="0.00" fill="#00BA38" stroke="#333333" stroke-width="0.75"/>
<line x1="458.66" x2="461.61" y1="312.90" y2="312.90" stroke="#333333" stroke-width="1.4"/>
<circle cx="460.14" cy="289.00" r="1.4" fill="#222"/>
<circle cx="460.14" cy="318.80" r="1.4" fill="#222"/>
<rect x="461.66" y="318.60" width="2.95" height="0.00" fill="#F8766D" stroke="#333333" stroke-width="0.75"/>
<line x1="461.66" x2="464.61" y1="318.60" y2="318.60" stroke="#333333" stroke-width="1.4"/>
<circle cx="463.14" cy="296.50" r="1.4" fill="#222"/>
<circle cx="463.14" cy="324.50" r="1.4" fill="#222"/>
<line x1="469.21" x2="469.21" y1="200.40" y2="263.00" stroke="#333333" stroke-width="0.9"/>
<line x1="469.21" x2="469.21" y1="317.20" y2="319.20" stroke="#333333" stroke-width="0.9"/>
<rect x="467.74" y="263.00" width="2.95" height="54.20" fill="#619CFF" stroke="#333333" stroke-width="0.75"/>
<line x1="467.74" x2="470.69" y1="296.50" y2="296.50" stroke="#333333" stroke-width="1.4"/>
<line x1="472.21" x2="472.21" y1="311.10" y2="311.20" stroke="#333333" stroke-width="0.9"/>
<line x1="472.21" x2="472.21" y1="318.50" y2="318.60" stroke="#333333" stroke-width="0.9"/>
<rect x="470.74" y="311.20" width="2.95" height="7.30" fill="#00BA38" stroke="#333333" stroke-width="0.75"/>
<line x1="470.74" x2="473.69" y1="312.50" y2="312.50" stroke="#333333" stroke-width="1.4"/>
<circle cx="472.21" cy="286.80" r="1.4" fill="#222"/>
<line x1="475.21" x2="475.21" y1="318.90" y2="319.00" stroke="#333333" stroke-width="0.9"/>
<line x1="475.21" x2="475.21" y1="325.50" y2="327.20" stroke="#333333" stroke-width="0.9"/>
<rect x="473.74" y="319.00" width="2.95" height="6.50" fill="#F8766D" stroke="#333333" stroke-width="0.75"/>
<line x1="473.74" x2="476.69" y1="320.50" y2="320.50" stroke="#333333" stroke-width="1.4"/>
<circle cx="475.21" cy="297.60" r="1.4" fill="#222"/>
<line x1="481.29" x2="481.29" y1="258.20" y2="282.80" stroke="#333333" stroke-width="0.9"/>
<line x1="481.29" x2="481.29" y1="324.10" y2="343.60" stroke="#333333" stroke-width="0.9"/>
<rect x="479.81" y="282.80" width="2.95" height="41.30" fill="#619CFF" stroke="#333333" stroke-width="0.75"/>
<line x1="479.81" x2="482.76" y1="317.30" y2="317.30" stroke="#333333" stroke-width="1.4"/>
<line x1="484.29" x2="484.29" y1="309.50" y2="309.60" stroke="#333333" stroke-width="0.9"/>
<line x1="484.29" x2="484.29" y1="314.30" y2="314.40" stroke="#333333" stroke-width="0.9"/>
<rect x="482.81" y="309.60" width="2.95" height="4.70" fill="#00BA38" stroke="#333333" stroke-width="0.75"/>
<line x1="482.81" x2="485.76" y1="312.00" y2="312.00" stroke="#333333" stroke-width="1.4"/>
<circle cx="484.29" cy="286.50" r="1.4" fill="#222"/>
<circle cx="484.29" cy="328.50" r="1.4" fill="#222"/>
<line x1="487.29" x2="487.29" y1="320.00" y2="320.10" stroke="#333333" stroke-width="0.9"/>
<line x1="487.29" x2="487.29" y1="324.00" y2="324.10" stroke="#333333" stroke-width="0.9"/>
<rect x="485.81" y="320.10" width="2.95" height="3.90" fill="#F8766D" stroke="#333333" stroke-width="0.75"/>
<line x1="485.81" x2="488.76" y1="322.00" y2="322.00" stroke="#333333" stroke-width="1.4"/>
<circle cx="487.29" cy="300.20" r="1.4" fill="#222"/>
<circle cx="487.29" cy="336.00" r="1.4" fill="#222"/>
<line x1="493.36" x2="493.36" y1="243.70" y2="300.20" stroke="#333333" stroke-width="0.9"/>
<line x1="493.36" x2="493.36" y1="359.60" y2="376.70" stroke="#333333" stroke-width="0.9"/>
<rect x="491.89" y="300.20" width="2.95" height="59.40" fill="#619CFF" stroke="#333333" stroke-width="0.75"/>
<line x1="491.89" x2="494.84" y1="320.20" y2="320.20" stroke="#333333" stroke-width="1.4"/>
<line x1="496.36" x2="496.36" y1="308.00" y2="308.10" stroke="#333333" stroke-width="0.9"/>
<line x1="496.36" x2="496.36" y1="319.20" y2="327.60" stroke="#333333" stroke-width="0.9"/>
<rect x="494.89" y="308.10" width="2.95" height="11.10" fill="#00BA38" stroke="#333333" stroke-width="0.75"/>
<line x1="494.89" x2="497.84" y1="313.80" y2="313.80" stroke="#333333" stroke-width="1.4"/>
<circle cx="496.36" cy="284.50" r="1.4" fill="#222"/>
<line x1="499.36" x2="499.36" y1="320.60" y2="320.70" stroke="#333333" stroke-width="0.9"/>
<line x1="499.36" x2="499.36" y1="330.20" y2="336.60" stroke="#333333" stroke-width="0.9"/>
<rect x="497.89" y="320.70" width="2.95" height="9.50" fill="#F8766D" stroke="#333333" stroke-width="0.75"/>
<line x1="497.89" x2="500.84" y1="325.50" y2="325.50" stroke="#333333" stroke-width="1.4"/>
<circle cx="499.36" cy="301.70" r="1.4" fill="#222"/>
<line x1="505.44" x2="505.44" y1="338.10" y2="338.20" stroke="#333333" stroke-width="0.9"/>
<line x1="505.44" x2="505.44" y1="354.20" y2="376.70" stroke="#333333" stroke-width="0.9"/>
<rect x="503.96" y="338.20" width="2.95" height="16.00" fill="#619CFF" stroke="#333333" stroke-width="0.75"/>
<line x1="503.96" x2="506.92" y1="344.30" y2="344.30" stroke="#333333" stroke-width="1.4"/>
<circle cx="505.44" cy="237.00" r="1.4" fill="#222"/>
<line x1="508.44" x2="508.44" y1="306.10" y2="306.20" stroke="#333333" stroke-width="0.9"/>
<line x1="508.44" x2="508.44" y1="310.30" y2="313.50" stroke="#333333" stroke-width="0.9"/>
<rect x="506.96" y="306.20" width="2.95" height="4.10" fill="#00BA38" stroke="#333333" stroke-width="0.75"/>
<line x1="506.96" x2="509.92" y1="308.00" y2="308.00" stroke="#333333" stroke-width="1.4"/>
<circle cx="508.44" cy="282.40" r="1.4" fill="#222"/>
<line x1="511.44" x2="511.44" y1="321.40" y2="321.50" stroke="#333333" stroke-width="0.9"/>
<line x1="511.44" x2="511.44" y1="324.90" y2="327.60" stroke="#333333" stroke-width="0.9"/>
<rect x="509.96" y="321.50" width="2.95" height="3.40" fill="#F8766D" stroke="#333333" stroke-width="0.75"/>
<line x1="509.96" x2="512.91" y1="323.00" y2="323.00" stroke="#333333" stroke-width="1.4"/>
<circle cx="511.44" cy="302.90" r="1.4" fill="#222"/>
<line x1="517.52" x2="517.52" y1="252.40" y2="277.60" stroke="#333333" stroke-width="0.9"/>
<line x1="517.52" x2="517.52" y1="337.40" y2="353.80" stroke="#333333" stroke-width="0.9"/>
<rect x="516.04" y="277.60" width="2.95" height="59.80" fill="#619CFF" stroke="#333333" stroke-width="0.75"/>
<line x1="516.04" x2="518.99" y1="312.20" y2="312.20" stroke="#333333" stroke-width="1.4"/>
<line x1="520.52" x2="520.52" y1="304.70" y2="304.80" stroke="#333333" stroke-width="0.9"/>
<line x1="520.52" x2="520.52" y1="314.40" y2="323.20" stroke="#333333" stroke-width="0.9"/>
<rect x="519.04" y="304.80" width="2.95" height="9.60" fill="#00BA38" stroke="#333333" stroke-width="0.75"/>
<line x1="519.04" x2="521.99" y1="309.50" y2="309.50" stroke="#333333" stroke-width="1.4"/>
<circle cx="520.52" cy="278.10" r="1.4" fill="#222"/>
<line x1="523.52" x2="523.52" y1="322.30" y2="322.40" stroke="#333333" stroke-width="0.9"/>
<line x1="523.52" x2="523.52" y1="330.20" y2="337.30" stroke="#333333" stroke-width="0.9"/>
<rect x="522.04" y="322.40" width="2.95" height="7.80" fill="#F8766D" stroke="#333333" stroke-width="0.75"/>
<line x1="522.04" x2="524.99" y1="326.00" y2="326.00" stroke="#333333" stroke-width="1.4"/>
<circle cx="523.52" cy="302.60" r="1.4" fill="#222"/>
<line x1="529.59" x2="529.59" y1="282.00" y2="306.40" stroke="#333333" stroke-width="0.9"/>
<line x1="529.59" x2="529.59" y1="328.40" y2="352.40" stroke="#333333" stroke-width="0.9"/>
<rect x="528.12" y="306.40" width="2.95" height="22.00" fill="#619CFF" stroke="#333333" stroke-width="0.75"/>
<line x1="528.12" x2="531.07" y1="322.30" y2="322.30" stroke="#333333" stroke-width="1.4"/>
<line x1="532.59" x2="532.59" y1="302.90" y2="303.00" stroke="#333333" stroke-width="0.9"/>
<line x1="532.59" x2="532.59" y1="310.00" y2="310.10" stroke="#333333" stroke-width="0.9"/>
<rect x="531.12" y="303.00" width="2.95" height="7.00" fill="#00BA38" stroke="#333333" stroke-width="0.75"/>
<line x1="531.12" x2="534.07" y1="306.00" y2="306.00" stroke="#333333" stroke-width="1.4"/>
<circle cx="532.59" cy="280.00" r="1.4" fill="#222"/>
<circle cx="532.59" cy="322.80" r="1.4" fill="#222"/>
<line x1="535.59" x2="535.59" y1="323.20" y2="323.30" stroke="#333333" stroke-width="0.9"/>
<line x1="535.59" x2="535.59" y1="329.30" y2="333.70" stroke="#333333" stroke-width="0.9"/>
<rect x="534.12" y="323.30" width="2.95" height="6.00" fill="#F8766D" stroke="#333333" stroke-width="0.75"/>
<line x1="534.12" x2="537.07" y1="326.00" y2="326.00" stroke="#333333" stroke-width="1.4"/>
<circle cx="535.59" cy="306.40" r="1.4" fill="#222"/>
<circle cx="535.59" cy="337.80" r="1.4" fill="#222"/>
<line x1="541.67" x2="541.67" y1="327.30" y2="327.40" stroke="#333333" stroke-width="0.9"/>
<line x1="541.67" x2="541.67" y1="341.40" y2="352.20" stroke="#333333" stroke-width="0.9"/>
<rect x="540.19" y="327.40" width="2.95" height="14.00" fill="#619CFF" stroke="#333333" stroke-width="0.75"/>
<line x1="540.19" x2="543.14" y1="335.70" y2="335.70" stroke="#333333" stroke-width="1.4"/>
<circle cx="541.67" cy="265.20" r="1.4" fill="#222"/>
<line x1="544.67" x2="544.67" y1="299.40" y2="299.50" stroke="#333333" stroke-width="0.9"/>
<line x1="544.67" x2="544.67" y1="307.80" y2="307.90" stroke="#333333" stroke-width="0.9"/>
<rect x="543.19" y="299.50" width="2.95" height="8.30" fill="#00BA38" stroke="#333333" stroke-width="0.75"/>
<line x1="543.19" x2="546.14" y1="303.00" y2="303.00" stroke="#333333" stroke-width="1.4"/>
<circle cx="544.67" cy="278.40" r="1.4" fill="#222"/>
<circle cx="544.67" cy="324.10" r="1.4" fill="#222"/>
<line x1="547.67" x2="547.67" y1="322.80" y2="322.90" stroke="#333333" stroke-width="0.9"/>
<line x1="547.67" x2="547.67" y1="329.00" y2="329.10" stroke="#333333" stroke-width="0.9"/>
<rect x="546.19" y="322.90" width="2.95" height="6.10" fill="#F8766D" stroke="#333333" stroke-width="0.75"/>
<line x1="546.19" x2="549.14" y1="325.50" y2="325.50" stroke="#333333" stroke-width="1.4"/>
<circle cx="547.67" cy="308.20" r="1.4" fill="#222"/>
<circle cx="547.67" cy="339.90" r="1.4" fill="#222"/>
<line x1="553.74" x2="553.74" y1="209.10" y2="269.30" stroke="#333333" stroke-width="0.9"/>
<line x1="553.74" x2="553.74" y1="337.50" y2="376.70" stroke="#333333" stroke-width="0.9"/>
<rect x="552.27" y="269.30" width="2.95" height="68.20" fill="#619CFF" stroke="#333333" stroke-width="0.75"/>
<line x1="552.27" x2="555.22" y1="314.90" y2="314.90" stroke="#333333" stroke-width="1.4"/>
<line x1="556.74" x2="556.74" y1="296.70" y2="301.50" stroke="#333333" stroke-width="0.9"/>
<line x1="556.74" x2="556.74" y1="310.30" y2="310.40" stroke="#333333" stroke-width="0.9"/>
<rect x="555.27" y="301.50" width="2.95" height="8.80" fill="#00BA38" stroke="#333333" stroke-width="0.75"/>
<line x1="555.27" x2="558.22" y1="304.00" y2="304.00" stroke="#333333" stroke-width="1.4"/>
<circle cx="556.74" cy="274.60" r="1.4" fill="#222"/>
<line x1="559.74" x2="559.74" y1="326.20" y2="326.30" stroke="#333333" stroke-width="0.9"/>
<line x1="559.74" x2="559.74" y1="331.50" y2="340.80" stroke="#333333" stroke-width="0.9"/>
<rect x="558.27" y="326.30" width="2.95" height="5.20" fill="#F8766D" stroke="#333333" stroke-width="0.75"/>
<line x1="558.27" x2="561.22" y1="328.50" y2="328.50" stroke="#333333" stroke-width="1.4"/>
<circle cx="559.74" cy="307.80" r="1.4" fill="#222"/>
<line x1="565.82" x2="565.82" y1="297.30" y2="300.30" stroke="#333333" stroke-width="0.9"/>
<line x1="565.82" x2="565.82" y1="329.30" y2="329.40" stroke="#333333" stroke-width="0.9"/>
<rect x="564.35" y="300.30" width="2.95" height="29.00" fill="#619CFF" stroke="#333333" stroke-width="0.75"/>
<line x1="564.35" x2="567.30" y1="327.90" y2="327.90" stroke="#333333" stroke-width="1.4"/>
<line x1="568.82" x2="568.82" y1="307.30" y2="307.40" stroke="#333333" stroke-width="0.9"/>
<line x1="568.82" x2="568.82" y1="313.80" y2="313.90" stroke="#333333" stroke-width="0.9"/>
<rect x="567.35" y="307.40" width="2.95" height="6.40" fill="#00BA38" stroke="#333333" stroke-width="0.75"/>
<line x1="567.35" x2="570.30" y1="310.00" y2="310.00" stroke="#333333" stroke-width="1.4"/>
<line x1="571.82" x2="571.82" y1="332.00" y2="332.10" stroke="#333333" stroke-width="0.9"/>
<line x1="571.82" x2="571.82" y1="336.10" y2="336.20" stroke="#333333" stroke-width="0.9"/>
<rect x="570.35" y="332.10" width="2.95" height="4.00" fill="#F8766D" stroke="#333333" stroke-width="0.75"/>
<line x1="570.35" x2="573.30" y1="334.00" y2="334.00" stroke="#333333" stroke-width="1.4"/>
<line x1="577.90" x2="577.90" y1="287.80" y2="307.30" stroke="#333333" stroke-width="0.9"/>
<line x1="577.90" x2="577.90" y1="353.30" y2="368.50" stroke="#333333" stroke-width="0.9"/>
<rect x="576.42" y="307.30" width="2.95" height="46.00" fill="#619CFF" stroke="#333333" stroke-width="0.75"/>
<line x1="576.42" x2="579.37" y1="344.50" y2="344.50" stroke="#333333" stroke-width="1.4"/>
<line x1="580.90" x2="580.90" y1="296.70" y2="299.00" stroke="#333333" stroke-width="0.9"/>
<line x1="580.90" x2="580.90" y1="310.00" y2="317.90" stroke="#333333" stroke-width="0.9"/>
<rect x="579.42" y="299.00" width="2.95" height="11.00" fill="#00BA38" stroke="#333333" stroke-width="0.75"/>
<line x1="579.42" x2="582.37" y1="304.70" y2="304.70" stroke="#333333" stroke-width="1.4"/>
<circle cx="580.90" cy="272.30" r="1.4" fill="#222"/>
<line x1="583.90" x2="583.90" y1="327.90" y2="328.00" stroke="#333333" stroke-width="0.9"/>
<line x1="583.90" x2="583.90" y1="335.50" y2="340.80" stroke="#333333" stroke-width="0.9"/>
<rect x="582.42" y="328.00" width="2.95" height="7.50" fill="#F8766D" stroke="#333333" stroke-width="0.75"/>
<line x1="582.42" x2="585.37" y1="331.50" y2="331.50" stroke="#333333" stroke-width="1.4"/>
<circle cx="583.90" cy="311.70" r="1.4" fill="#222"/>
<line x1="589.97" x2="589.97" y1="288.10" y2="300.30" stroke="#333333" stroke-width="0.9"/>
<line x1="589.97" x2="589.97" y1="342.90" y2="376.70" stroke="#333333" stroke-width="0.9"/>
<rect x="588.50" y="300.30" width="2.95" height="42.60" fill="#619CFF" stroke="#333333" stroke-width="0.75"/>
<line x1="588.50" x2="591.45" y1="320.30" y2="320.30" stroke="#333333" stroke-width="1.4"/>
<line x1="592.97" x2="592.97" y1="296.20" y2="296.30" stroke="#333333" stroke-width="0.9"/>
<line x1="592.97" x2="592.97" y1="311.40" y2="317.90" stroke="#333333" stroke-width="0.9"/>
<rect x="591.50" y="296.30" width="2.95" height="15.10" fill="#00BA38" stroke="#333333" stroke-width="0.75"/>
<line x1="591.50" x2="594.45" y1="306.10" y2="306.10" stroke="#333333" stroke-width="1.4"/>
<circle cx="592.97" cy="272.30" r="1.4" fill="#222"/>
<line x1="595.97" x2="595.97" y1="327.90" y2="328.00" stroke="#333333" stroke-width="0.9"/>
<line x1="595.97" x2="595.97" y1="337.30" y2="341.80" stroke="#333333" stroke-width="0.9"/>
<rect x="594.50" y="328.00" width="2.95" height="9.30" fill="#F8766D" stroke="#333333" stroke-width="0.75"/>
<line x1="594.50" x2="597.45" y1="332.50" y2="332.50" stroke="#333333" stroke-width="1.4"/>
<circle cx="595.97" cy="314.20" r="1.4" fill="#222"/>
<line x1="602.05" x2="602.05" y1="255.90" y2="284.40" stroke="#333333" stroke-width="0.9"/>
<line x1="602.05" x2="602.05" y1="322.30" y2="334.50" stroke="#333333" stroke-width="0.9"/>
<rect x="600.57" y="284.40" width="2.95" height="37.90" fill="#619CFF" stroke="#333333" stroke-width="0.75"/>
<line x1="600.57" x2="603.52" y1="310.80" y2="310.80" stroke="#333333" stroke-width="1.4"/>
<line x1="605.05" x2="605.05" y1="291.60" y2="297.30" stroke="#333333" stroke-width="0.9"/>
<line x1="605.05" x2="605.05" y1="309.10" y2="319.60" stroke="#333333" stroke-width="0.9"/>
<rect x="603.57" y="297.30" width="2.95" height="11.80" fill="#00BA38" stroke="#333333" stroke-width="0.75"/>
<line x1="603.57" x2="606.52" y1="302.00" y2="302.00" stroke="#333333" stroke-width="1.4"/>
<circle cx="605.05" cy="270.20" r="1.4" fill="#222"/>
<line x1="608.05" x2="608.05" y1="327.60" y2="331.10" stroke="#333333" stroke-width="0.9"/>
<line x1="608.05" x2="608.05" y1="338.10" y2="343.40" stroke="#333333" stroke-width="0.9"/>
<rect x="606.57" y="331.10" width="2.95" height="7.00" fill="#F8766D" stroke="#333333" stroke-width="0.75"/>
<line x1="606.57" x2="609.52" y1="332.50" y2="332.50" stroke="#333333" stroke-width="1.4"/>
<circle cx="608.05" cy="315.20" r="1.4" fill="#222"/>
<line x1="614.12" x2="614.12" y1="213.70" y2="248.10" stroke="#333333" stroke-width="0.9"/>
<line x1="614.12" x2="614.12" y1="285.00" y2="302.90" stroke="#333333" stroke-width="0.9"/>
<rect x="612.65" y="248.10" width="2.95" height="36.90" fill="#619CFF" stroke="#333333" stroke-width="0.75"/>
<line x1="612.65" x2="615.60" y1="258.20" y2="258.20" stroke="#333333" stroke-width="1.4"/>
<line x1="617.12" x2="617.12" y1="290.20" y2="293.30" stroke="#333333" stroke-width="0.9"/>
<line x1="617.12" x2="617.12" y1="314.40" y2="318.40" stroke="#333333" stroke-width="0.9"/>
<rect x="615.65" y="293.30" width="2.95" height="21.10" fill="#00BA38" stroke="#333333" stroke-width="0.75"/>
<line x1="615.65" x2="618.60" y1="298.50" y2="298.50" stroke="#333333" stroke-width="1.4"/>
<circle cx="617.12" cy="267.50" r="1.4" fill="#222"/>
<line x1="620.12" x2="620.12" y1="329.30" y2="330.20" stroke="#333333" stroke-width="0.9"/>
<line x1="620.12" x2="620.12" y1="339.60" y2="344.30" stroke="#333333" stroke-width="0.9"/>
<rect x="618.65" y="330.20" width="2.95" height="9.40" fill="#F8766D" stroke="#333333" stroke-width="0.75"/>
<line x1="618.65" x2="621.60" y1="332.50" y2="332.50" stroke="#333333" stroke-width="1.4"/>
<circle cx="620.12" cy="316.50" r="1.4" fill="#222"/>
<line x1="626.20" x2="626.20" y1="154.10" y2="180.20" stroke="#333333" stroke-width="0.9"/>
<line x1="626.20" x2="626.20" y1="258.70" y2="315.20" stroke="#333333" stroke-width="0.9"/>
<rect x="624.73" y="180.20" width="2.95" height="78.50" fill="#619CFF" stroke="#333333" stroke-width="0.75"/>
<line x1="624.73" x2="627.68" y1="194.10" y2="194.10" stroke="#333333" stroke-width="1.4"/>
<line x1="629.20" x2="629.20" y1="290.20" y2="293.50" stroke="#333333" stroke-width="0.9"/>
<line x1="629.20" x2="629.20" y1="307.80" y2="318.40" stroke="#333333" stroke-width="0.9"/>
<rect x="627.73" y="293.50" width="2.95" height="14.30" fill="#00BA38" stroke="#333333" stroke-width="0.75"/>
<line x1="627.73" x2="630.68" y1="297.60" y2="297.60" stroke="#333333" stroke-width="1.4"/>
<circle cx="629.20" cy="267.00" r="1.4" fill="#222"/>
<line x1="632.20" x2="632.20" y1="332.00" y2="332.10" stroke="#333333" stroke-width="0.9"/>
<line x1="632.20" x2="632.20" y1="339.90" y2="345.50" stroke="#333333" stroke-width="0.9"/>
<rect x="630.73" y="332.10" width="2.95" height="7.80" fill="#F8766D" stroke="#333333" stroke-width="0.75"/>
<line x1="630.73" x2="633.68" y1="334.60" y2="334.60" stroke="#333333" stroke-width="1.4"/>
<circle cx="632.20" cy="317.90" r="1.4" fill="#222"/>
<line x1="638.28" x2="638.28" y1="206.10" y2="231.40" stroke="#333333" stroke-width="0.9"/>
<line x1="638.28" x2="638.28" y1="278.40" y2="311.70" stroke="#333333" stroke-width="0.9"/>
<rect x="636.80" y="231.40" width="2.95" height="47.00" fill="#619CFF" stroke="#333333" stroke-width="0.75"/>
<line x1="636.80" x2="639.75" y1="256.40" y2="256.40" stroke="#333333" stroke-width="1.4"/>
<line x1="641.28" x2="641.28" y1="289.00" y2="291.30" stroke="#333333" stroke-width="0.9"/>
<line x1="641.28" x2="641.28" y1="307.30" y2="317.50" stroke="#333333" stroke-width="0.9"/>
<rect x="639.80" y="291.30" width="2.95" height="16.00" fill="#00BA38" stroke="#333333" stroke-width="0.75"/>
<line x1="639.80" x2="642.75" y1="297.10" y2="297.10" stroke="#333333" stroke-width="1.4"/>
<circle cx="641.28" cy="264.90" r="1.4" fill="#222"/>
<line x1="644.28" x2="644.28" y1="332.50" y2="332.60" stroke="#333333" stroke-width="0.9"/>
<line x1="644.28" x2="644.28" y1="341.30" y2="346.60" stroke="#333333" stroke-width="0.9"/>
<rect x="642.80" y="332.60" width="2.95" height="8.70" fill="#F8766D" stroke="#333333" stroke-width="0.75"/>
<line x1="642.80" x2="645.75" y1="335.00" y2="335.00" stroke="#333333" stroke-width="1.4"/>
<circle cx="644.28" cy="319.60" r="1.4" fill="#222"/>
<line x1="650.35" x2="650.35" y1="274.60" y2="280.60" stroke="#333333" stroke-width="0.9"/>
<line x1="650.35" x2="650.35" y1="314.90" y2="328.90" stroke="#333333" stroke-width="0.9"/>
<rect x="648.88" y="280.60" width="2.95" height="34.30" fill="#619CFF" stroke="#333333" stroke-width="0.75"/>
<line x1="648.88" x2="651.83" y1="302.40" y2="302.40" stroke="#333333" stroke-width="1.4"/>
<circle cx="650.35" cy="192.00" r="1.4" fill="#222"/>
<line x1="653.35" x2="653.35" y1="287.80" y2="287.90" stroke="#333333" stroke-width="0.9"/>
<line x1="653.35" x2="653.35" y1="302.00" y2="316.10" stroke="#333333" stroke-width="0.9"/>
<rect x="651.88" y="287.90" width="2.95" height="14.10" fill="#00BA38" stroke="#333333" stroke-width="0.75"/>
<line x1="651.88" x2="654.83" y1="293.60" y2="293.60" stroke="#333333" stroke-width="1.4"/>
<circle cx="653.35" cy="262.60" r="1.4" fill="#222"/>
<line x1="656.35" x2="656.35" y1="332.50" y2="332.60" stroke="#333333" stroke-width="0.9"/>
<line x1="656.35" x2="656.35" y1="340.30" y2="347.00" stroke="#333333" stroke-width="0.9"/>
<rect x="654.88" y="332.60" width="2.95" height="7.70" fill="#F8766D" stroke="#333333" stroke-width="0.75"/>
<line x1="654.88" x2="657.83" y1="335.00" y2="335.00" stroke="#333333" stroke-width="1.4"/>
<circle cx="656.35" cy="320.50" r="1.4" fill="#222"/>
<line x1="662.43" x2="662.43" y1="227.30" y2="259.10" stroke="#333333" stroke-width="0.9"/>
<line x1="662.43" x2="662.43" y1="309.60" y2="376.70" stroke="#333333" stroke-width="0.9"/>
<rect x="660.95" y="259.10" width="2.95" height="50.50" fill="#619CFF" stroke="#333333" stroke-width="0.75"/>
<line x1="660.95" x2="663.90" y1="288.80" y2="288.80" stroke="#333333" stroke-width="1.4"/>
<line x1="665.43" x2="665.43" y1="286.90" y2="290.50" stroke="#333333" stroke-width="0.9"/>
<line x1="665.43" x2="665.43" y1="306.10" y2="315.20" stroke="#333333" stroke-width="0.9"/>
<rect x="663.95" y="290.50" width="2.95" height="15.60" fill="#00BA38" stroke="#333333" stroke-width="0.75"/>
<line x1="663.95" x2="666.90" y1="297.60" y2="297.60" stroke="#333333" stroke-width="1.4"/>
<circle cx="665.43" cy="262.20" r="1.4" fill="#222"/>
<circle cx="665.43" cy="349.80" r="1.4" fill="#222"/>
<line x1="668.43" x2="668.43" y1="335.50" y2="335.60" stroke="#333333" stroke-width="0.9"/>
<line x1="668.43" x2="668.43" y1="343.40" y2="347.80" stroke="#333333" stroke-width="0.9"/>
<rect x="666.95" y="335.60" width="2.95" height="7.80" fill="#F8766D" stroke="#333333" stroke-width="0.75"/>
<line x1="666.95" x2="669.90" y1="339.60" y2="339.60" stroke="#333333" stroke-width="1.4"/>
<circle cx="668.43" cy="322.20" r="1.4" fill="#222"/>
<circle cx="668.43" cy="364.00" r="1.4" fill="#222"/>
<line x1="674.50" x2="674.50" y1="256.10" y2="299.40" stroke="#333333" stroke-width="0.9"/>
<line x1="674.50" x2="674.50" y1="331.50" y2="365.50" stroke="#333333" stroke-width="0.9"/>
<rect x="673.03" y="299.40" width="2.95" height="32.10" fill="#619CFF" stroke="#333333" stroke-width="0.75"/>
<line x1="673.03" x2="675.98" y1="323.20" y2="323.20" stroke="#333333" stroke-width="1.4"/>
<line x1="677.50" x2="677.50" y1="257.80" y2="286.50" stroke="#333333" stroke-width="0.9"/>
<line x1="677.50" x2="677.50" y1="309.10" y2="314.40" stroke="#333333" stroke-width="0.9"/>
<rect x="676.03" y="286.50" width="2.95" height="22.60" fill="#00BA38" stroke="#333333" stroke-width="0.75"/>
<line x1="676.03" x2="678.98" y1="292.10" y2="292.10" stroke="#333333" stroke-width="1.4"/>
<circle cx="677.50" cy="349.40" r="1.4" fill="#222"/>
<line x1="680.50" x2="680.50" y1="322.60" y2="335.50" stroke="#333333" stroke-width="0.9"/>
<line x1="680.50" x2="680.50" y1="346.10" y2="348.20" stroke="#333333" stroke-width="0.9"/>
<rect x="679.03" y="335.50" width="2.95" height="10.60" fill="#F8766D" stroke="#333333" stroke-width="0.75"/>
<line x1="679.03" x2="681.98" y1="339.00" y2="339.00" stroke="#333333" stroke-width="1.4"/>
<circle cx="680.50" cy="364.00" r="1.4" fill="#222"/>
<line x1="16.2" x2="17.9" y1="377.00" y2="377.00" stroke="#333" stroke-width="1.07"/>
<line x1="16.2" x2="17.9" y1="260.33" y2="260.33" stroke="#333" stroke-width="1.07"/>
<line x1="16.2" x2="17.9" y1="143.67" y2="143.67" stroke="#333" stroke-width="1.07"/>
<line x1="16.2" x2="17.9" y1="27.00" y2="27.00" stroke="#333" stroke-width="1.07"/>
<line x1="25.40" x2="25.40" y1="394.6" y2="396.90" stroke="#333" stroke-width="1.07"/>
<line x1="37.48" x2="37.48" y1="394.6" y2="396.90" stroke="#333" stroke-width="1.07"/>
<line x1="49.55" x2="49.55" y1="394.6" y2="396.90" stroke="#333" stroke-width="1.07"/>
<line x1="61.63" x2="61.63" y1="394.6" y2="396.90" stroke="#333" stroke-width="1.07"/>
<line x1="73.70" x2="73.70" y1="394.6" y2="396.90" stroke="#333" stroke-width="1.07"/>
<line x1="85.78" x2="85.78" y1="394.6" y2="396.90" stroke="#333" stroke-width="1.07"/>
<line x1="97.86" x2="97.86" y1="394.6" y2="396.90" stroke="#333" stroke-width="1.07"/>
<line x1="109.93" x2="109.93" y1="394.6" y2="396.90" stroke="#333" stroke-width="1.07"/>
<line x1="122.01" x2="122.01" y1="394.6" y2="396.90" stroke="#333" stroke-width="1.07"/>
<line x1="134.08" x2="134.08" y1="394.6" y2="396.90" stroke="#333" stroke-width="1.07"/>
<line x1="146.16" x2="146.16" y1="394.6" y2="396.90" stroke="#333" stroke-width="1.07"/>
<line x1="158.24" x2="158.24" y1="394.6" y2="396.90" stroke="#333" stroke-width="1.07"/>
<line x1="170.31" x2="170.31" y1="394.6" y2="396.90" stroke="#333" stroke-width="1.07"/>
<line x1="182.39" x2="182.39" y1="394.6" y2="396.90" stroke="#333" stroke-width="1.07"/>
<line x1="194.46" x2="194.46" y1="394.6" y2="396.90" stroke="#333" stroke-width="1.07"/>
<line x1="206.54" x2="206.54" y1="394.6" y2="396.90" stroke="#333" stroke-width="1.07"/>
<line x1="218.62" x2="218.62" y1="394.6" y2="396.90" stroke="#333" stroke-width="1.07"/>
<line x1="230.69" x2="230.69" y1="394.6" y2="396.90" stroke="#333" stroke-width="1.07"/>
<line x1="242.77" x2="242.77" y1="394.6" y2="396.90" stroke="#333" stroke-width="1.07"/>
<line x1="254.84" x2="254.84" y1="394.6" y2="396.90" stroke="#333" stroke-width="1.07"/>
<line x1="266.92" x2="266.92" y1="394.6" y2="396.90" stroke="#333" stroke-width="1.07"/>
<line x1="279.00" x2="279.00" y1="394.6" y2="396.90" stroke="#333" stroke-width="1.07"/>
<line x1="291.07" x2="291.07" y1="394.6" y2="396.90" stroke="#333" stroke-width="1.07"/>
<line x1="303.15" x2="303.15" y1="394.6" y2="396.90" stroke="#333" stroke-width="1.07"/>
<line x1="315.22" x2="315.22" y1="394.6" y2="396.90" stroke="#333" stroke-width="1.07"/>
<line x1="327.30" x2="327.30" y1="394.6" y2="396.90" stroke="#333" stroke-width="1.07"/>
<line x1="339.38" x2="339.38" y1="394.6" y2="396.90" stroke="#333" stroke-width="1.07"/>
<line x1="351.45" x2="351.45" y1="394.6" y2="396.90" stroke="#333" stroke-width="1.07"/>
<line x1="363.53" x2="363.53" y1="394.6" y2="396.90" stroke="#333" stroke-width="1.07"/>
<line x1="375.60" x2="375.60" y1="394.6" y2="396.90" stroke="#333" stroke-width="1.07"/>
<line x1="387.68" x2="387.68" y1="394.6" y2="396.90" stroke="#333" stroke-width="1.07"/>
<line x1="399.76" x2="399.76" y1="394.6" y2="396.90" stroke="#333" stroke-width="1.07"/>
<line x1="411.83" x2="411.83" y1="394.6" y2="396.90" stroke="#333" stroke-width="1.07"/>
<line x1="423.91" x2="423.91" y1="394.6" y2="396.90" stroke="#333" stroke-width="1.07"/>
<line x1="435.98" x2="435.98" y1="394.6" y2="396.90" stroke="#333" stroke-width="1.07"/>
<line x1="448.06" x2="448.06" y1="394.6" y2="396.90" stroke="#333" stroke-width="1.07"/>
<line x1="460.14" x2="460.14" y1="394.6" y2="396.90" stroke="#333" stroke-width="1.07"/>
<line x1="472.21" x2="472.21" y1="394.6" y2="396.90" stroke="#333" stroke-width="1.07"/>
<line x1="484.29" x2="484.29" y1="394.6" y2="396.90" stroke="#333" stroke-width="1.07"/>
<line x1="496.36" x2="496.36" y1="394.6" y2="396.90" stroke="#333" stroke-width="1.07"/>
<line x1="508.44" x2="508.44" y1="394.6" y2="396.90" stroke="#333" stroke-width="1.07"/>
<line x1="520.52" x2="520.52" y1="394.6" y2="396.90" stroke="#333" stroke-width="1.07"/>
<line x1="532.59" x2="532.59" y1="394.6" y2="396.90" stroke="#333" stroke-width="1.07"/>
<line x1="544.67" x2="544.67" y1="394.6" y2="396.90" stroke="#333" stroke-width="1.07"/>
<line x1="556.74" x2="556.74" y1="394.6" y2="396.90" stroke="#333" stroke-width="1.07"/>
<line x1="568.82" x2="568.82" y1="394.6" y2="396.90" stroke="#333" stroke-width="1.07"/>
<line x1="580.90" x2="580.90" y1="394.6" y2="396.90" stroke="#333" stroke-width="1.07"/>
<line x1="592.97" x2="592.97" y1="394.6" y2="396.90" stroke="#333" stroke-width="1.07"/>
<line x1="605.05" x2="605.05" y1="394.6" y2="396.90" stroke="#333" stroke-width="1.07"/>
<line x1="617.12" x2="617.12" y1="394.6" y2="396.90" stroke="#333" stroke-width="1.07"/>
<line x1="629.20" x2="629.20" y1="394.6" y2="396.90" stroke="#333" stroke-width="1.07"/>
<line x1="641.28" x2="641.28" y1="394.6" y2="396.90" stroke="#333" stroke-width="1.07"/>
<line x1="653.35" x2="653.35" y1="394.6" y2="396.90" stroke="#333" stroke-width="1.07"/>
<line x1="665.43" x2="665.43" y1="394.6" y2="396.90" stroke="#333" stroke-width="1.07"/>
<line x1="677.50" x2="677.50" y1="394.6" y2="396.90" stroke="#333" stroke-width="1.07"/>
<rect x="305.0" y="438.8" width="12" height="12" fill="#F2F2F2"/>
<line x1="311.0" x2="311.0" y1="440.20" y2="449.50" stroke="#333333" stroke-width="0.9"/>
<rect x="306.50" y="442.20" width="9" height="5.5" fill="#619CFF" stroke="#333333" stroke-width="0.75"/>
<line x1="306.50" x2="315.50" y1="444.90" y2="444.90" stroke="#333333" stroke-width="1.4"/>
<rect x="348.2" y="438.8" width="12" height="12" fill="#F2F2F2"/>
<line x1="354.2" x2="354.2" y1="440.20" y2="449.50" stroke="#333333" stroke-width="0.9"/>
<rect x="349.70" y="442.20" width="9" height="5.5" fill="#00BA38" stroke="#333333" stroke-width="0.75"/>
<line x1="349.70" x2="358.70" y1="444.90" y2="444.90" stroke="#333333" stroke-width="1.4"/>
<rect x="389.8" y="438.8" width="12" height="12" fill="#F2F2F2"/>
<line x1="395.8" x2="395.8" y1="440.20" y2="449.50" stroke="#333333" stroke-width="0.9"/>
<rect x="391.30" y="442.20" width="9" height="5.5" fill="#F8766D" stroke="#333333" stroke-width="0.75"/>
<line x1="391.30" x2="400.30" y1="444.90" y2="444.90" stroke="#333333" stroke-width="1.4"/>
<g style="opacity:0.999">
<text x="15.3" y="378.80" font-size="6.2" fill="#4D4D4D" text-anchor="end">0</text>
<text x="15.3" y="262.13" font-size="6.2" fill="#4D4D4D" text-anchor="end">10</text>
<text x="15.3" y="145.47" font-size="6.2" fill="#4D4D4D" text-anchor="end">20</text>
<text x="15.3" y="28.80" font-size="6.2" fill="#4D4D4D" text-anchor="end">30</text>
<text x="29.90" y="399.80" font-size="5.55" fill="#4D4D4D" text-anchor="end" transform="rotate(-90 29.90 399.80)">2018 10</text>
<text x="41.98" y="399.80" font-size="5.55" fill="#4D4D4D" text-anchor="end" transform="rotate(-90 41.98 399.80)">2018 11</text>
<text x="54.05" y="399.80" font-size="5.55" fill="#4D4D4D" text-anchor="end" transform="rotate(-90 54.05 399.80)">2018 12</text>
<text x="66.13" y="399.80" font-size="5.55" fill="#4D4D4D" text-anchor="end" transform="rotate(-90 66.13 399.80)">2019 01</text>
<text x="78.20" y="399.80" font-size="5.55" fill="#4D4D4D" text-anchor="end" transform="rotate(-90 78.20 399.80)">2019 02</text>
<text x="90.28" y="399.80" font-size="5.55" fill="#4D4D4D" text-anchor="end" transform="rotate(-90 90.28 399.80)">2019 03</text>
<text x="102.36" y="399.80" font-size="5.55" fill="#4D4D4D" text-anchor="end" transform="rotate(-90 102.36 399.80)">2019 04</text>
<text x="114.43" y="399.80" font-size="5.55" fill="#4D4D4D" text-anchor="end" transform="rotate(-90 114.43 399.80)">2019 05</text>
<text x="126.51" y="399.80" font-size="5.55" fill="#4D4D4D" text-anchor="end" transform="rotate(-90 126.51 399.80)">2019 06</text>
<text x="138.58" y="399.80" font-size="5.55" fill="#4D4D4D" text-anchor="end" transform="rotate(-90 138.58 399.80)">2019 07</text>
<text x="150.66" y="399.80" font-size="5.55" fill="#4D4D4D" text-anchor="end" transform="rotate(-90 150.66 399.80)">2019 08</text>
<text x="162.74" y="399.80" font-size="5.55" fill="#4D4D4D" text-anchor="end" transform="rotate(-90 162.74 399.80)">2019 09</text>
<text x="174.81" y="399.80" font-size="5.55" fill="#4D4D4D" text-anchor="end" transform="rotate(-90 174.81 399.80)">2019 10</text>
<text x="186.89" y="399.80" font-size="5.55" fill="#4D4D4D" text-anchor="end" transform="rotate(-90 186.89 399.80)">2019 11</text>
<text x="198.96" y="399.80" font-size="5.55" fill="#4D4D4D" text-anchor="end" transform="rotate(-90 198.96 399.80)">2019 12</text>
<text x="211.04" y="399.80" font-size="5.55" fill="#4D4D4D" text-anchor="end" transform="rotate(-90 211.04 399.80)">2020 01</text>
<text x="223.12" y="399.80" font-size="5.55" fill="#4D4D4D" text-anchor="end" transform="rotate(-90 223.12 399.80)">2020 02</text>
<text x="235.19" y="399.80" font-size="5.55" fill="#4D4D4D" text-anchor="end" transform="rotate(-90 235.19 399.80)">2020 03</text>
<text x="247.27" y="399.80" font-size="5.55" fill="#4D4D4D" text-anchor="end" transform="rotate(-90 247.27 399.80)">2020 04</text>
<text x="259.34" y="399.80" font-size="5.55" fill="#4D4D4D" text-anchor="end" transform="rotate(-90 259.34 399.80)">2020 05</text>
<text x="271.42" y="399.80" font-size="5.55" fill="#4D4D4D" text-anchor="end" transform="rotate(-90 271.42 399.80)">2020 06</text>
<text x="283.50" y="399.80" font-size="5.55" fill="#4D4D4D" text-anchor="end" transform="rotate(-90 283.50 399.80)">2020 07</text>
<text x="295.57" y="399.80" font-size="5.55" fill="#4D4D4D" text-anchor="end" transform="rotate(-90 295.57 399.80)">2020 08</text>
<text x="307.65" y="399.80" font-size="5.55" fill="#4D4D4D" text-anchor="end" transform="rotate(-90 307.65 399.80)">2020 09</text>
<text x="319.72" y="399.80" font-size="5.55" fill="#4D4D4D" text-anchor="end" transform="rotate(-90 319.72 399.80)">2020 10</text>
<text x="331.80" y="399.80" font-size="5.55" fill="#4D4D4D" text-anchor="end" transform="rotate(-90 331.80 399.80)">2020 11</text>
<text x="343.88" y="399.80" font-size="5.55" fill="#4D4D4D" text-anchor="end" transform="rotate(-90 343.88 399.80)">2020 12</text>
<text x="355.95" y="399.80" font-size="5.55" fill="#4D4D4D" text-anchor="end" transform="rotate(-90 355.95 399.80)">2021 01</text>
<text x="368.03" y="399.80" font-size="5.55" fill="#4D4D4D" text-anchor="end" transform="rotate(-90 368.03 399.80)">2021 02</text>
<text x="380.10" y="399.80" font-size="5.55" fill="#4D4D4D" text-anchor="end" transform="rotate(-90 380.10 399.80)">2021 03</text>
<text x="392.18" y="399.80" font-size="5.55" fill="#4D4D4D" text-anchor="end" transform="rotate(-90 392.18 399.80)">2021 04</text>
<text x="404.26" y="399.80" font-size="5.55" fill="#4D4D4D" text-anchor="end" transform="rotate(-90 404.26 399.80)">2021 05</text>
<text x="416.33" y="399.80" font-size="5.55" fill="#4D4D4D" text-anchor="end" transform="rotate(-90 416.33 399.80)">2021 06</text>
<text x="428.41" y="399.80" font-size="5.55" fill="#4D4D4D" text-anchor="end" transform="rotate(-90 428.41 399.80)">2021 07</text>
<text x="440.48" y="399.80" font-size="5.55" fill="#4D4D4D" text-anchor="end" transform="rotate(-90 440.48 399.80)">2021 08</text>
<text x="452.56" y="399.80" font-size="5.55" fill="#4D4D4D" text-anchor="end" transform="rotate(-90 452.56 399.80)">2021 09</text>
<text x="464.64" y="399.80" font-size="5.55" fill="#4D4D4D" text-anchor="end" transform="rotate(-90 464.64 399.80)">2021 10</text>
<text x="476.71" y="399.80" font-size="5.55" fill="#4D4D4D" text-anchor="end" transform="rotate(-90 476.71 399.80)">2021 11</text>
<text x="488.79" y="399.80" font-size="5.55" fill="#4D4D4D" text-anchor="end" transform="rotate(-90 488.79 399.80)">2021 12</text>
<text x="500.86" y="399.80" font-size="5.55" fill="#4D4D4D" text-anchor="end" transform="rotate(-90 500.86 399.80)">2022 01</text>
<text x="512.94" y="399.80" font-size="5.55" fill="#4D4D4D" text-anchor="end" transform="rotate(-90 512.94 399.80)">2022 02</text>
<text x="525.02" y="399.80" font-size="5.55" fill="#4D4D4D" text-anchor="end" transform="rotate(-90 525.02 399.80)">2022 03</text>
<text x="537.09" y="399.80" font-size="5.55" fill="#4D4D4D" text-anchor="end" transform="rotate(-90 537.09 399.80)">2022 04</text>
<text x="549.17" y="399.80" font-size="5.55" fill="#4D4D4D" text-anchor="end" transform="rotate(-90 549.17 399.80)">2022 05</text>
<text x="561.24" y="399.80" font-size="5.55" fill="#4D4D4D" text-anchor="end" transform="rotate(-90 561.24 399.80)">2022 06</text>
<text x="573.32" y="399.80" font-size="5.55" fill="#4D4D4D" text-anchor="end" transform="rotate(-90 573.32 399.80)">2022 07</text>
<text x="585.40" y="399.80" font-size="5.55" fill="#4D4D4D" text-anchor="end" transform="rotate(-90 585.40 399.80)">2022 08</text>
<text x="597.47" y="399.80" font-size="5.55" fill="#4D4D4D" text-anchor="end" transform="rotate(-90 597.47 399.80)">2022 09</text>
<text x="609.55" y="399.80" font-size="5.55" fill="#4D4D4D" text-anchor="end" transform="rotate(-90 609.55 399.80)">2022 10</text>
<text x="621.62" y="399.80" font-size="5.55" fill="#4D4D4D" text-anchor="end" transform="rotate(-90 621.62 399.80)">2022 11</text>
<text x="633.70" y="399.80" font-size="5.55" fill="#4D4D4D" text-anchor="end" transform="rotate(-90 633.70 399.80)">2022 12</text>
<text x="645.78" y="399.80" font-size="5.55" fill="#4D4D4D" text-anchor="end" transform="rotate(-90 645.78 399.80)">2023 01</text>
<text x="657.85" y="399.80" font-size="5.55" fill="#4D4D4D" text-anchor="end" transform="rotate(-90 657.85 399.80)">2023 02</text>
<text x="669.93" y="399.80" font-size="5.55" fill="#4D4D4D" text-anchor="end" transform="rotate(-90 669.93 399.80)">2023 03</text>
<text x="682.00" y="399.80" font-size="5.55" fill="#4D4D4D" text-anchor="end" transform="rotate(-90 682.00 399.80)">2023 04</text>
<text x="351.4" y="427.0" font-size="6.6" fill="#000" text-anchor="middle" stroke="#000" stroke-width="0.18">month</text>
<text x="4.9" y="197.3" font-size="7.0" fill="#000" text-anchor="middle" stroke="#000" stroke-width="0.18" transform="rotate(-90 4.9 197.3)">Respiratory syst. Cum. Incidence (%) (occup.)</text>
<text x="277.8" y="447.5" font-size="6.85" fill="#000" stroke="#000" stroke-width="0.18">variable</text>
<text x="319.9" y="447.2" font-size="5.7" fill="#000" stroke="#000" stroke-width="0.12">Observed</text>
<text x="362.8" y="447.2" font-size="5.7" fill="#000" stroke="#000" stroke-width="0.12">Outcome</text>
<text x="404.7" y="447.2" font-size="5.7" fill="#000" stroke="#000" stroke-width="0.12">Cfactual</text>
</g>
</svg></body></html>
